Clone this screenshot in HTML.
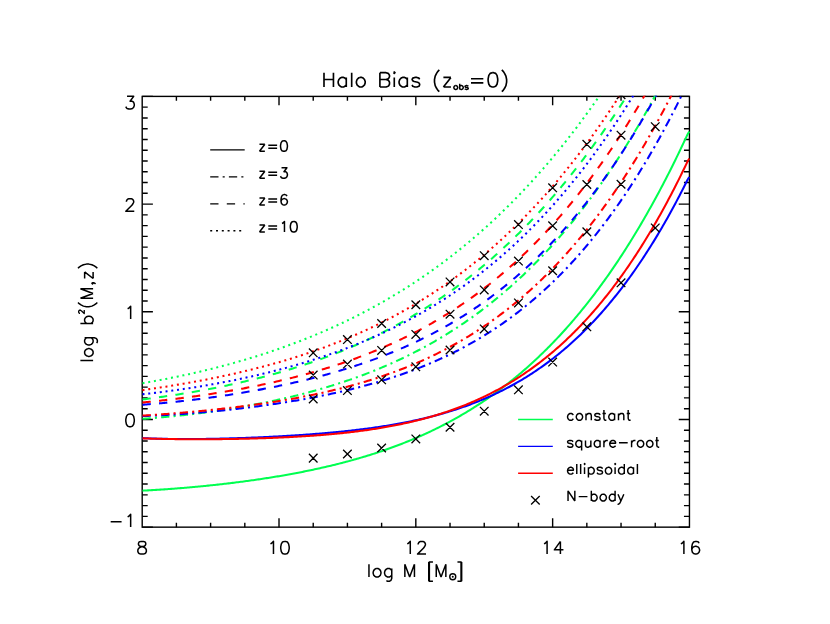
<!DOCTYPE html>
<html><head><meta charset="utf-8"><title>Halo Bias</title>
<style>html,body{margin:0;padding:0;background:#fff;font-family:"Liberation Sans",sans-serif}svg{display:block}</style>
</head><body>
<svg width="830" height="624" viewBox="0 0 830 624" style="display:block">
<rect width="830" height="624" fill="#fff"/>
<defs><clipPath id="cp"><rect x="141.5" y="95.7" width="548.65" height="432.15"/></clipPath></defs>
<rect x="142.2" y="96.4" width="547.25" height="430.75" fill="none" stroke="#000" stroke-width="1.4"/>
<path d="M176.4 527.15V522.85M176.4 96.4V100.7M210.61 527.15V522.85M210.61 96.4V100.7M244.81 527.15V522.85M244.81 96.4V100.7M279.01 527.15V518.25M279.01 96.4V105.3M313.22 527.15V522.85M313.22 96.4V100.7M347.42 527.15V522.85M347.42 96.4V100.7M381.62 527.15V522.85M381.62 96.4V100.7M415.82 527.15V518.25M415.82 96.4V105.3M450.03 527.15V522.85M450.03 96.4V100.7M484.23 527.15V522.85M484.23 96.4V100.7M518.43 527.15V522.85M518.43 96.4V100.7M552.64 527.15V518.25M552.64 96.4V105.3M586.84 527.15V522.85M586.84 96.4V100.7M621.04 527.15V522.85M621.04 96.4V100.7M655.25 527.15V522.85M655.25 96.4V100.7M142.2 527.15H152.9M689.45 527.15H678.75M142.2 516.38H147.7M689.45 516.38H683.95M142.2 505.61H147.7M689.45 505.61H683.95M142.2 494.84H147.7M689.45 494.84H683.95M142.2 484.07H147.7M689.45 484.07H683.95M142.2 473.31H147.7M689.45 473.31H683.95M142.2 462.54H147.7M689.45 462.54H683.95M142.2 451.77H147.7M689.45 451.77H683.95M142.2 441H147.7M689.45 441H683.95M142.2 430.23H147.7M689.45 430.23H683.95M142.2 419.46H152.9M689.45 419.46H678.75M142.2 408.69H147.7M689.45 408.69H683.95M142.2 397.92H147.7M689.45 397.92H683.95M142.2 387.16H147.7M689.45 387.16H683.95M142.2 376.39H147.7M689.45 376.39H683.95M142.2 365.62H147.7M689.45 365.62H683.95M142.2 354.85H147.7M689.45 354.85H683.95M142.2 344.08H147.7M689.45 344.08H683.95M142.2 333.31H147.7M689.45 333.31H683.95M142.2 322.54H147.7M689.45 322.54H683.95M142.2 311.77H152.9M689.45 311.77H678.75M142.2 301.01H147.7M689.45 301.01H683.95M142.2 290.24H147.7M689.45 290.24H683.95M142.2 279.47H147.7M689.45 279.47H683.95M142.2 268.7H147.7M689.45 268.7H683.95M142.2 257.93H147.7M689.45 257.93H683.95M142.2 247.16H147.7M689.45 247.16H683.95M142.2 236.39H147.7M689.45 236.39H683.95M142.2 225.62H147.7M689.45 225.62H683.95M142.2 214.86H147.7M689.45 214.86H683.95M142.2 204.09H152.9M689.45 204.09H678.75M142.2 193.32H147.7M689.45 193.32H683.95M142.2 182.55H147.7M689.45 182.55H683.95M142.2 171.78H147.7M689.45 171.78H683.95M142.2 161.01H147.7M689.45 161.01H683.95M142.2 150.24H147.7M689.45 150.24H683.95M142.2 139.47H147.7M689.45 139.47H683.95M142.2 128.71H147.7M689.45 128.71H683.95M142.2 117.94H147.7M689.45 117.94H683.95M142.2 107.17H147.7M689.45 107.17H683.95M142.2 96.4H152.9M689.45 96.4H678.75" stroke="#000" stroke-width="1.4" fill="none"/>
<g clip-path="url(#cp)" fill="none" stroke-linecap="butt" stroke-linejoin="round">
<path d="M142.5 490.67 L143.87 490.6 L145.23 490.52 L146.6 490.45 L147.96 490.38 L149.33 490.3 L150.7 490.22 L152.06 490.14 L153.43 490.06 L154.79 489.98 L156.16 489.89 L157.53 489.81 L158.89 489.72 L160.26 489.63 L161.62 489.54 L162.99 489.45 L164.36 489.36 L165.72 489.27 L167.09 489.17 L168.45 489.07 L169.82 488.97 L171.19 488.87 L172.55 488.77 L173.92 488.67 L175.28 488.57 L176.65 488.46 L178.02 488.35 L179.38 488.24 L180.75 488.13 L182.11 488.02 L183.48 487.91 L184.85 487.79 L186.21 487.68 L187.58 487.56 L188.94 487.44 L190.31 487.32 L191.68 487.2 L193.04 487.08 L194.41 486.95 L195.77 486.83 L197.14 486.7 L198.51 486.57 L199.87 486.44 L201.24 486.31 L202.6 486.17 L203.97 486.04 L205.34 485.9 L206.7 485.77 L208.07 485.63 L209.43 485.49 L210.8 485.34 L212.17 485.2 L213.53 485.06 L214.9 484.91 L216.26 484.76 L217.63 484.61 L219 484.46 L220.36 484.31 L221.73 484.15 L223.09 484 L224.46 483.84 L225.83 483.68 L227.19 483.52 L228.56 483.36 L229.92 483.19 L231.29 483.03 L232.66 482.86 L234.02 482.69 L235.39 482.52 L236.75 482.35 L238.12 482.18 L239.49 482 L240.85 481.83 L242.22 481.65 L243.58 481.47 L244.95 481.29 L246.32 481.1 L247.68 480.92 L249.05 480.73 L250.41 480.54 L251.78 480.35 L253.15 480.16 L254.51 479.96 L255.88 479.77 L257.24 479.57 L258.61 479.37 L259.98 479.17 L261.34 478.97 L262.71 478.76 L264.07 478.55 L265.44 478.34 L266.81 478.13 L268.17 477.92 L269.54 477.7 L270.9 477.49 L272.27 477.27 L273.64 477.05 L275 476.82 L276.37 476.6 L277.73 476.37 L279.1 476.14 L280.47 475.91 L281.83 475.68 L283.2 475.44 L284.56 475.2 L285.93 474.96 L287.3 474.72 L288.66 474.48 L290.03 474.23 L291.39 473.98 L292.76 473.73 L294.13 473.47 L295.49 473.22 L296.86 472.96 L298.22 472.7 L299.59 472.43 L300.96 472.17 L302.32 471.9 L303.69 471.63 L305.05 471.36 L306.42 471.08 L307.79 470.8 L309.15 470.52 L310.52 470.24 L311.88 469.95 L313.25 469.66 L314.62 469.37 L315.98 469.08 L317.35 468.78 L318.71 468.48 L320.08 468.18 L321.45 467.87 L322.81 467.56 L324.18 467.25 L325.54 466.94 L326.91 466.62 L328.28 466.3 L329.64 465.98 L331.01 465.65 L332.37 465.32 L333.74 464.99 L335.11 464.65 L336.47 464.31 L337.84 463.97 L339.2 463.63 L340.57 463.28 L341.94 462.93 L343.3 462.57 L344.67 462.21 L346.03 461.85 L347.4 461.49 L348.77 461.12 L350.13 460.75 L351.5 460.37 L352.86 459.99 L354.23 459.61 L355.6 459.22 L356.96 458.83 L358.33 458.44 L359.69 458.04 L361.06 457.64 L362.43 457.24 L363.79 456.83 L365.16 456.42 L366.52 456 L367.89 455.58 L369.26 455.16 L370.62 454.73 L371.99 454.3 L373.35 453.86 L374.72 453.42 L376.09 452.98 L377.45 452.53 L378.82 452.07 L380.18 451.62 L381.55 451.16 L382.92 450.69 L384.28 450.22 L385.65 449.75 L387.01 449.27 L388.38 448.78 L389.75 448.29 L391.11 447.8 L392.48 447.3 L393.84 446.8 L395.21 446.29 L396.58 445.78 L397.94 445.27 L399.31 444.75 L400.67 444.22 L402.04 443.69 L403.41 443.15 L404.77 442.61 L406.14 442.06 L407.5 441.51 L408.87 440.96 L410.24 440.4 L411.6 439.83 L412.97 439.26 L414.33 438.68 L415.7 438.1 L417.07 437.51 L418.43 436.91 L419.8 436.31 L421.16 435.71 L422.53 435.1 L423.9 434.48 L425.26 433.86 L426.63 433.23 L427.99 432.6 L429.36 431.96 L430.73 431.31 L432.09 430.66 L433.46 430 L434.82 429.34 L436.19 428.67 L437.56 428 L438.92 427.31 L440.29 426.63 L441.65 425.93 L443.02 425.23 L444.39 424.52 L445.75 423.81 L447.12 423.09 L448.48 422.36 L449.85 421.63 L451.22 420.89 L452.58 420.14 L453.95 419.39 L455.31 418.63 L456.68 417.86 L458.05 417.08 L459.41 416.3 L460.78 415.51 L462.14 414.72 L463.51 413.91 L464.88 413.1 L466.24 412.29 L467.61 411.46 L468.97 410.63 L470.34 409.79 L471.71 408.94 L473.07 408.09 L474.44 407.22 L475.8 406.35 L477.17 405.48 L478.54 404.59 L479.9 403.7 L481.27 402.79 L482.63 401.88 L484 400.97 L485.37 400.04 L486.73 399.11 L488.1 398.16 L489.46 397.21 L490.83 396.25 L492.2 395.29 L493.56 394.31 L494.93 393.33 L496.29 392.33 L497.66 391.33 L499.03 390.32 L500.39 389.3 L501.76 388.27 L503.12 387.24 L504.49 386.19 L505.86 385.13 L507.22 384.07 L508.59 383 L509.95 381.91 L511.32 380.82 L512.69 379.72 L514.05 378.61 L515.42 377.49 L516.78 376.36 L518.15 375.22 L519.52 374.07 L520.88 372.91 L522.25 371.74 L523.61 370.56 L524.98 369.37 L526.35 368.17 L527.71 366.96 L529.08 365.75 L530.44 364.52 L531.81 363.28 L533.18 362.03 L534.54 360.76 L535.91 359.49 L537.27 358.21 L538.64 356.92 L540.01 355.61 L541.37 354.3 L542.74 352.97 L544.1 351.64 L545.47 350.29 L546.84 348.93 L548.2 347.56 L549.57 346.18 L550.93 344.79 L552.3 343.39 L553.67 341.97 L555.03 340.54 L556.4 339.1 L557.76 337.65 L559.13 336.19 L560.5 334.72 L561.86 333.23 L563.23 331.74 L564.59 330.23 L565.96 328.7 L567.33 327.17 L568.69 325.62 L570.06 324.06 L571.42 322.49 L572.79 320.91 L574.16 319.31 L575.52 317.7 L576.89 316.08 L578.25 314.44 L579.62 312.8 L580.99 311.13 L582.35 309.46 L583.72 307.77 L585.08 306.07 L586.45 304.36 L587.82 302.63 L589.18 300.89 L590.55 299.13 L591.91 297.37 L593.28 295.58 L594.65 293.79 L596.01 291.98 L597.38 290.15 L598.74 288.32 L600.11 286.46 L601.48 284.6 L602.84 282.72 L604.21 280.82 L605.57 278.91 L606.94 276.99 L608.31 275.05 L609.67 273.09 L611.04 271.13 L612.4 269.14 L613.77 267.14 L615.14 265.13 L616.5 263.1 L617.87 261.06 L619.23 259 L620.6 256.92 L621.97 254.83 L623.33 252.73 L624.7 250.6 L626.06 248.47 L627.43 246.31 L628.8 244.14 L630.16 241.96 L631.53 239.75 L632.89 237.54 L634.26 235.3 L635.63 233.05 L636.99 230.78 L638.36 228.5 L639.72 226.2 L641.09 223.88 L642.46 221.55 L643.82 219.19 L645.19 216.82 L646.55 214.44 L647.92 212.04 L649.29 209.61 L650.65 207.18 L652.02 204.72 L653.38 202.25 L654.75 199.76 L656.12 197.25 L657.48 194.72 L658.85 192.18 L660.21 189.61 L661.58 187.03 L662.95 184.43 L664.31 181.82 L665.68 179.18 L667.04 176.52 L668.41 173.85 L669.78 171.16 L671.14 168.45 L672.51 165.72 L673.87 162.97 L675.24 160.2 L676.61 157.41 L677.97 154.6 L679.34 151.78 L680.7 148.93 L682.07 146.06 L683.44 143.18 L684.8 140.27 L686.17 137.35 L687.53 134.4 L689.25 131.43 L689.25 131.43" stroke="#00ff50" stroke-width="2.05"/>
<path d="M142.5 438.12 L143.87 438.18 L145.23 438.24 L146.6 438.3 L147.96 438.35 L149.33 438.4 L150.7 438.45 L152.06 438.5 L153.43 438.54 L154.79 438.58 L156.16 438.63 L157.53 438.66 L158.89 438.7 L160.26 438.73 L161.62 438.77 L162.99 438.8 L164.36 438.83 L165.72 438.85 L167.09 438.88 L168.45 438.9 L169.82 438.92 L171.19 438.94 L172.55 438.96 L173.92 438.97 L175.28 438.99 L176.65 439 L178.02 439.01 L179.38 439.02 L180.75 439.03 L182.11 439.03 L183.48 439.04 L184.85 439.04 L186.21 439.04 L187.58 439.04 L188.94 439.04 L190.31 439.04 L191.68 439.03 L193.04 439.03 L194.41 439.02 L195.77 439.01 L197.14 439 L198.51 438.99 L199.87 438.97 L201.24 438.96 L202.6 438.94 L203.97 438.93 L205.34 438.91 L206.7 438.89 L208.07 438.87 L209.43 438.85 L210.8 438.83 L212.17 438.8 L213.53 438.78 L214.9 438.75 L216.26 438.72 L217.63 438.69 L219 438.66 L220.36 438.63 L221.73 438.6 L223.09 438.57 L224.46 438.53 L225.83 438.5 L227.19 438.46 L228.56 438.42 L229.92 438.39 L231.29 438.35 L232.66 438.31 L234.02 438.26 L235.39 438.22 L236.75 438.18 L238.12 438.13 L239.49 438.09 L240.85 438.04 L242.22 437.99 L243.58 437.95 L244.95 437.9 L246.32 437.85 L247.68 437.79 L249.05 437.74 L250.41 437.69 L251.78 437.63 L253.15 437.58 L254.51 437.52 L255.88 437.47 L257.24 437.41 L258.61 437.35 L259.98 437.29 L261.34 437.23 L262.71 437.16 L264.07 437.1 L265.44 437.04 L266.81 436.97 L268.17 436.91 L269.54 436.84 L270.9 436.77 L272.27 436.7 L273.64 436.63 L275 436.56 L276.37 436.49 L277.73 436.41 L279.1 436.34 L280.47 436.26 L281.83 436.19 L283.2 436.11 L284.56 436.03 L285.93 435.95 L287.3 435.87 L288.66 435.79 L290.03 435.71 L291.39 435.62 L292.76 435.54 L294.13 435.45 L295.49 435.36 L296.86 435.27 L298.22 435.18 L299.59 435.09 L300.96 435 L302.32 434.91 L303.69 434.81 L305.05 434.71 L306.42 434.62 L307.79 434.52 L309.15 434.42 L310.52 434.32 L311.88 434.21 L313.25 434.11 L314.62 434 L315.98 433.89 L317.35 433.79 L318.71 433.68 L320.08 433.56 L321.45 433.45 L322.81 433.34 L324.18 433.22 L325.54 433.1 L326.91 432.98 L328.28 432.86 L329.64 432.74 L331.01 432.61 L332.37 432.49 L333.74 432.36 L335.11 432.23 L336.47 432.1 L337.84 431.97 L339.2 431.83 L340.57 431.69 L341.94 431.55 L343.3 431.41 L344.67 431.27 L346.03 431.13 L347.4 430.98 L348.77 430.83 L350.13 430.68 L351.5 430.53 L352.86 430.37 L354.23 430.21 L355.6 430.06 L356.96 429.89 L358.33 429.73 L359.69 429.56 L361.06 429.39 L362.43 429.22 L363.79 429.05 L365.16 428.87 L366.52 428.7 L367.89 428.51 L369.26 428.33 L370.62 428.15 L371.99 427.96 L373.35 427.76 L374.72 427.57 L376.09 427.37 L377.45 427.17 L378.82 426.97 L380.18 426.77 L381.55 426.56 L382.92 426.35 L384.28 426.13 L385.65 425.92 L387.01 425.7 L388.38 425.47 L389.75 425.25 L391.11 425.02 L392.48 424.78 L393.84 424.55 L395.21 424.31 L396.58 424.06 L397.94 423.82 L399.31 423.57 L400.67 423.31 L402.04 423.05 L403.41 422.79 L404.77 422.53 L406.14 422.26 L407.5 421.99 L408.87 421.71 L410.24 421.43 L411.6 421.15 L412.97 420.86 L414.33 420.57 L415.7 420.27 L417.07 419.97 L418.43 419.67 L419.8 419.36 L421.16 419.05 L422.53 418.73 L423.9 418.41 L425.26 418.08 L426.63 417.75 L427.99 417.42 L429.36 417.08 L430.73 416.73 L432.09 416.38 L433.46 416.03 L434.82 415.67 L436.19 415.31 L437.56 414.94 L438.92 414.56 L440.29 414.18 L441.65 413.8 L443.02 413.41 L444.39 413.02 L445.75 412.61 L447.12 412.21 L448.48 411.8 L449.85 411.38 L451.22 410.96 L452.58 410.53 L453.95 410.1 L455.31 409.66 L456.68 409.21 L458.05 408.76 L459.41 408.3 L460.78 407.84 L462.14 407.37 L463.51 406.89 L464.88 406.41 L466.24 405.92 L467.61 405.43 L468.97 404.93 L470.34 404.42 L471.71 403.9 L473.07 403.38 L474.44 402.86 L475.8 402.32 L477.17 401.78 L478.54 401.23 L479.9 400.67 L481.27 400.11 L482.63 399.54 L484 398.96 L485.37 398.38 L486.73 397.79 L488.1 397.19 L489.46 396.58 L490.83 395.96 L492.2 395.34 L493.56 394.71 L494.93 394.07 L496.29 393.42 L497.66 392.77 L499.03 392.11 L500.39 391.43 L501.76 390.76 L503.12 390.07 L504.49 389.37 L505.86 388.67 L507.22 387.95 L508.59 387.23 L509.95 386.5 L511.32 385.76 L512.69 385.01 L514.05 384.25 L515.42 383.49 L516.78 382.71 L518.15 381.92 L519.52 381.13 L520.88 380.32 L522.25 379.51 L523.61 378.69 L524.98 377.85 L526.35 377.01 L527.71 376.16 L529.08 375.29 L530.44 374.42 L531.81 373.54 L533.18 372.64 L534.54 371.74 L535.91 370.82 L537.27 369.9 L538.64 368.96 L540.01 368.02 L541.37 367.06 L542.74 366.09 L544.1 365.11 L545.47 364.12 L546.84 363.12 L548.2 362.11 L549.57 361.08 L550.93 360.05 L552.3 359 L553.67 357.94 L555.03 356.87 L556.4 355.79 L557.76 354.69 L559.13 353.58 L560.5 352.46 L561.86 351.33 L563.23 350.19 L564.59 349.03 L565.96 347.86 L567.33 346.68 L568.69 345.49 L570.06 344.28 L571.42 343.06 L572.79 341.83 L574.16 340.58 L575.52 339.32 L576.89 338.05 L578.25 336.76 L579.62 335.46 L580.99 334.14 L582.35 332.81 L583.72 331.47 L585.08 330.12 L586.45 328.75 L587.82 327.36 L589.18 325.96 L590.55 324.55 L591.91 323.12 L593.28 321.68 L594.65 320.22 L596.01 318.75 L597.38 317.26 L598.74 315.75 L600.11 314.24 L601.48 312.7 L602.84 311.15 L604.21 309.59 L605.57 308.01 L606.94 306.41 L608.31 304.8 L609.67 303.17 L611.04 301.53 L612.4 299.86 L613.77 298.19 L615.14 296.49 L616.5 294.78 L617.87 293.05 L619.23 291.31 L620.6 289.55 L621.97 287.77 L623.33 285.97 L624.7 284.16 L626.06 282.33 L627.43 280.48 L628.8 278.61 L630.16 276.73 L631.53 274.83 L632.89 272.91 L634.26 270.97 L635.63 269.01 L636.99 267.04 L638.36 265.04 L639.72 263.03 L641.09 261 L642.46 258.95 L643.82 256.88 L645.19 254.79 L646.55 252.68 L647.92 250.55 L649.29 248.41 L650.65 246.24 L652.02 244.05 L653.38 241.84 L654.75 239.62 L656.12 237.37 L657.48 235.1 L658.85 232.81 L660.21 230.5 L661.58 228.17 L662.95 225.82 L664.31 223.45 L665.68 221.06 L667.04 218.64 L668.41 216.21 L669.78 213.75 L671.14 211.27 L672.51 208.77 L673.87 206.24 L675.24 203.7 L676.61 201.13 L677.97 198.54 L679.34 195.92 L680.7 193.29 L682.07 190.63 L683.44 187.95 L684.8 185.24 L686.17 182.51 L687.53 179.76 L689.25 176.99 L689.25 176.99" stroke="#0000ff" stroke-width="2.05"/>
<path d="M142.5 438.34 L143.87 438.39 L145.23 438.43 L146.6 438.48 L147.96 438.52 L149.33 438.56 L150.7 438.61 L152.06 438.65 L153.43 438.68 L154.79 438.72 L156.16 438.75 L157.53 438.79 L158.89 438.82 L160.26 438.85 L161.62 438.88 L162.99 438.91 L164.36 438.94 L165.72 438.96 L167.09 438.99 L168.45 439.01 L169.82 439.04 L171.19 439.06 L172.55 439.08 L173.92 439.1 L175.28 439.12 L176.65 439.13 L178.02 439.15 L179.38 439.16 L180.75 439.18 L182.11 439.19 L183.48 439.2 L184.85 439.21 L186.21 439.22 L187.58 439.23 L188.94 439.24 L190.31 439.24 L191.68 439.25 L193.04 439.25 L194.41 439.25 L195.77 439.26 L197.14 439.26 L198.51 439.26 L199.87 439.26 L201.24 439.26 L202.6 439.25 L203.97 439.25 L205.34 439.25 L206.7 439.24 L208.07 439.23 L209.43 439.23 L210.8 439.22 L212.17 439.21 L213.53 439.2 L214.9 439.19 L216.26 439.18 L217.63 439.16 L219 439.15 L220.36 439.14 L221.73 439.12 L223.09 439.1 L224.46 439.09 L225.83 439.07 L227.19 439.05 L228.56 439.03 L229.92 439.01 L231.29 438.99 L232.66 438.96 L234.02 438.94 L235.39 438.91 L236.75 438.89 L238.12 438.86 L239.49 438.83 L240.85 438.8 L242.22 438.77 L243.58 438.74 L244.95 438.71 L246.32 438.68 L247.68 438.65 L249.05 438.61 L250.41 438.58 L251.78 438.54 L253.15 438.5 L254.51 438.46 L255.88 438.42 L257.24 438.38 L258.61 438.34 L259.98 438.3 L261.34 438.25 L262.71 438.21 L264.07 438.16 L265.44 438.11 L266.81 438.07 L268.17 438.02 L269.54 437.96 L270.9 437.91 L272.27 437.86 L273.64 437.8 L275 437.75 L276.37 437.69 L277.73 437.63 L279.1 437.57 L280.47 437.51 L281.83 437.45 L283.2 437.39 L284.56 437.32 L285.93 437.26 L287.3 437.19 L288.66 437.12 L290.03 437.05 L291.39 436.98 L292.76 436.91 L294.13 436.83 L295.49 436.76 L296.86 436.68 L298.22 436.6 L299.59 436.52 L300.96 436.44 L302.32 436.35 L303.69 436.27 L305.05 436.18 L306.42 436.09 L307.79 436 L309.15 435.91 L310.52 435.81 L311.88 435.72 L313.25 435.62 L314.62 435.52 L315.98 435.42 L317.35 435.32 L318.71 435.21 L320.08 435.11 L321.45 435 L322.81 434.89 L324.18 434.77 L325.54 434.66 L326.91 434.54 L328.28 434.42 L329.64 434.3 L331.01 434.18 L332.37 434.05 L333.74 433.93 L335.11 433.8 L336.47 433.66 L337.84 433.53 L339.2 433.39 L340.57 433.25 L341.94 433.11 L343.3 432.97 L344.67 432.82 L346.03 432.67 L347.4 432.52 L348.77 432.36 L350.13 432.21 L351.5 432.05 L352.86 431.89 L354.23 431.72 L355.6 431.55 L356.96 431.38 L358.33 431.21 L359.69 431.03 L361.06 430.85 L362.43 430.67 L363.79 430.49 L365.16 430.3 L366.52 430.11 L367.89 429.91 L369.26 429.71 L370.62 429.51 L371.99 429.31 L373.35 429.1 L374.72 428.89 L376.09 428.68 L377.45 428.46 L378.82 428.24 L380.18 428.01 L381.55 427.78 L382.92 427.55 L384.28 427.32 L385.65 427.08 L387.01 426.84 L388.38 426.59 L389.75 426.34 L391.11 426.08 L392.48 425.83 L393.84 425.56 L395.21 425.3 L396.58 425.03 L397.94 424.75 L399.31 424.47 L400.67 424.19 L402.04 423.9 L403.41 423.61 L404.77 423.32 L406.14 423.02 L407.5 422.71 L408.87 422.4 L410.24 422.09 L411.6 421.77 L412.97 421.45 L414.33 421.12 L415.7 420.79 L417.07 420.45 L418.43 420.11 L419.8 419.76 L421.16 419.41 L422.53 419.05 L423.9 418.69 L425.26 418.32 L426.63 417.95 L427.99 417.57 L429.36 417.18 L430.73 416.8 L432.09 416.4 L433.46 416 L434.82 415.6 L436.19 415.18 L437.56 414.77 L438.92 414.34 L440.29 413.92 L441.65 413.48 L443.02 413.04 L444.39 412.59 L445.75 412.14 L447.12 411.68 L448.48 411.22 L449.85 410.75 L451.22 410.27 L452.58 409.79 L453.95 409.3 L455.31 408.8 L456.68 408.29 L458.05 407.78 L459.41 407.27 L460.78 406.74 L462.14 406.21 L463.51 405.68 L464.88 405.13 L466.24 404.58 L467.61 404.02 L468.97 403.46 L470.34 402.88 L471.71 402.3 L473.07 401.71 L474.44 401.12 L475.8 400.52 L477.17 399.91 L478.54 399.29 L479.9 398.66 L481.27 398.03 L482.63 397.39 L484 396.74 L485.37 396.08 L486.73 395.41 L488.1 394.74 L489.46 394.06 L490.83 393.37 L492.2 392.67 L493.56 391.96 L494.93 391.24 L496.29 390.52 L497.66 389.78 L499.03 389.04 L500.39 388.29 L501.76 387.53 L503.12 386.76 L504.49 385.98 L505.86 385.19 L507.22 384.4 L508.59 383.59 L509.95 382.78 L511.32 381.95 L512.69 381.12 L514.05 380.27 L515.42 379.42 L516.78 378.55 L518.15 377.68 L519.52 376.79 L520.88 375.9 L522.25 375 L523.61 374.08 L524.98 373.16 L526.35 372.22 L527.71 371.27 L529.08 370.32 L530.44 369.35 L531.81 368.37 L533.18 367.38 L534.54 366.38 L535.91 365.37 L537.27 364.35 L538.64 363.32 L540.01 362.27 L541.37 361.22 L542.74 360.15 L544.1 359.07 L545.47 357.98 L546.84 356.88 L548.2 355.76 L549.57 354.64 L550.93 353.5 L552.3 352.35 L553.67 351.18 L555.03 350.01 L556.4 348.82 L557.76 347.62 L559.13 346.41 L560.5 345.18 L561.86 343.95 L563.23 342.7 L564.59 341.43 L565.96 340.16 L567.33 338.87 L568.69 337.56 L570.06 336.25 L571.42 334.92 L572.79 333.57 L574.16 332.22 L575.52 330.84 L576.89 329.46 L578.25 328.06 L579.62 326.65 L580.99 325.22 L582.35 323.78 L583.72 322.32 L585.08 320.85 L586.45 319.37 L587.82 317.87 L589.18 316.36 L590.55 314.83 L591.91 313.28 L593.28 311.73 L594.65 310.15 L596.01 308.56 L597.38 306.96 L598.74 305.34 L600.11 303.7 L601.48 302.05 L602.84 300.38 L604.21 298.7 L605.57 297 L606.94 295.29 L608.31 293.55 L609.67 291.81 L611.04 290.04 L612.4 288.26 L613.77 286.46 L615.14 284.65 L616.5 282.82 L617.87 280.97 L619.23 279.11 L620.6 277.22 L621.97 275.32 L623.33 273.41 L624.7 271.47 L626.06 269.52 L627.43 267.55 L628.8 265.56 L630.16 263.55 L631.53 261.53 L632.89 259.49 L634.26 257.43 L635.63 255.35 L636.99 253.25 L638.36 251.13 L639.72 249 L641.09 246.84 L642.46 244.67 L643.82 242.48 L645.19 240.27 L646.55 238.04 L647.92 235.79 L649.29 233.52 L650.65 231.23 L652.02 228.92 L653.38 226.59 L654.75 224.24 L656.12 221.87 L657.48 219.48 L658.85 217.06 L660.21 214.63 L661.58 212.18 L662.95 209.71 L664.31 207.21 L665.68 204.7 L667.04 202.16 L668.41 199.6 L669.78 197.02 L671.14 194.42 L672.51 191.8 L673.87 189.16 L675.24 186.49 L676.61 183.8 L677.97 181.09 L679.34 178.36 L680.7 175.6 L682.07 172.82 L683.44 170.02 L684.8 167.2 L686.17 164.35 L687.53 161.48 L689.25 158.59 L689.25 158.59" stroke="#ff0000" stroke-width="2.05"/>
<path d="M142.5 418.82 L143.87 418.72 L145.23 418.62 L146.6 418.52 L147.96 418.42 L149.33 418.31 L150.7 418.21 L152.06 418.1 L153.43 417.99 L154.79 417.88 L156.16 417.77 L157.53 417.65 L158.89 417.53 L160.26 417.41 L161.62 417.29 L162.99 417.17 L164.36 417.05 L165.72 416.92 L167.09 416.79 L168.45 416.66 L169.82 416.53 L171.19 416.4 L172.55 416.26 L173.92 416.12 L175.28 415.99 L176.65 415.84 L178.02 415.7 L179.38 415.56 L180.75 415.41 L182.11 415.26 L183.48 415.11 L184.85 414.96 L186.21 414.81 L187.58 414.65 L188.94 414.5 L190.31 414.34 L191.68 414.17 L193.04 414.01 L194.41 413.85 L195.77 413.68 L197.14 413.51 L198.51 413.34 L199.87 413.17 L201.24 412.99 L202.6 412.82 L203.97 412.64 L205.34 412.46 L206.7 412.28 L208.07 412.09 L209.43 411.91 L210.8 411.72 L212.17 411.53 L213.53 411.34 L214.9 411.14 L216.26 410.95 L217.63 410.75 L219 410.55 L220.36 410.35 L221.73 410.14 L223.09 409.94 L224.46 409.73 L225.83 409.52 L227.19 409.3 L228.56 409.09 L229.92 408.87 L231.29 408.65 L232.66 408.43 L234.02 408.21 L235.39 407.98 L236.75 407.76 L238.12 407.53 L239.49 407.3 L240.85 407.06 L242.22 406.83 L243.58 406.59 L244.95 406.35 L246.32 406.1 L247.68 405.86 L249.05 405.61 L250.41 405.36 L251.78 405.11 L253.15 404.85 L254.51 404.6 L255.88 404.34 L257.24 404.08 L258.61 403.81 L259.98 403.55 L261.34 403.28 L262.71 403.01 L264.07 402.73 L265.44 402.46 L266.81 402.18 L268.17 401.9 L269.54 401.61 L270.9 401.33 L272.27 401.04 L273.64 400.75 L275 400.45 L276.37 400.15 L277.73 399.85 L279.1 399.55 L280.47 399.25 L281.83 398.94 L283.2 398.63 L284.56 398.32 L285.93 398 L287.3 397.68 L288.66 397.36 L290.03 397.04 L291.39 396.71 L292.76 396.38 L294.13 396.05 L295.49 395.71 L296.86 395.38 L298.22 395.03 L299.59 394.69 L300.96 394.34 L302.32 393.99 L303.69 393.64 L305.05 393.28 L306.42 392.92 L307.79 392.56 L309.15 392.19 L310.52 391.83 L311.88 391.45 L313.25 391.08 L314.62 390.7 L315.98 390.32 L317.35 389.93 L318.71 389.54 L320.08 389.15 L321.45 388.76 L322.81 388.36 L324.18 387.96 L325.54 387.55 L326.91 387.14 L328.28 386.73 L329.64 386.31 L331.01 385.89 L332.37 385.47 L333.74 385.05 L335.11 384.62 L336.47 384.18 L337.84 383.74 L339.2 383.3 L340.57 382.86 L341.94 382.41 L343.3 381.96 L344.67 381.5 L346.03 381.04 L347.4 380.58 L348.77 380.11 L350.13 379.64 L351.5 379.16 L352.86 378.68 L354.23 378.2 L355.6 377.71 L356.96 377.22 L358.33 376.72 L359.69 376.22 L361.06 375.72 L362.43 375.21 L363.79 374.69 L365.16 374.18 L366.52 373.65 L367.89 373.13 L369.26 372.6 L370.62 372.06 L371.99 371.52 L373.35 370.98 L374.72 370.43 L376.09 369.88 L377.45 369.32 L378.82 368.76 L380.18 368.19 L381.55 367.62 L382.92 367.04 L384.28 366.46 L385.65 365.88 L387.01 365.29 L388.38 364.69 L389.75 364.09 L391.11 363.49 L392.48 362.88 L393.84 362.26 L395.21 361.64 L396.58 361.01 L397.94 360.38 L399.31 359.75 L400.67 359.11 L402.04 358.46 L403.41 357.81 L404.77 357.15 L406.14 356.49 L407.5 355.82 L408.87 355.15 L410.24 354.47 L411.6 353.79 L412.97 353.1 L414.33 352.4 L415.7 351.7 L417.07 350.99 L418.43 350.28 L419.8 349.56 L421.16 348.84 L422.53 348.11 L423.9 347.37 L425.26 346.63 L426.63 345.88 L427.99 345.13 L429.36 344.37 L430.73 343.6 L432.09 342.83 L433.46 342.05 L434.82 341.27 L436.19 340.48 L437.56 339.68 L438.92 338.88 L440.29 338.07 L441.65 337.25 L443.02 336.43 L444.39 335.6 L445.75 334.76 L447.12 333.92 L448.48 333.07 L449.85 332.22 L451.22 331.35 L452.58 330.48 L453.95 329.61 L455.31 328.73 L456.68 327.83 L458.05 326.94 L459.41 326.03 L460.78 325.12 L462.14 324.2 L463.51 323.28 L464.88 322.34 L466.24 321.4 L467.61 320.46 L468.97 319.5 L470.34 318.54 L471.71 317.57 L473.07 316.59 L474.44 315.61 L475.8 314.61 L477.17 313.61 L478.54 312.6 L479.9 311.59 L481.27 310.56 L482.63 309.53 L484 308.49 L485.37 307.45 L486.73 306.39 L488.1 305.33 L489.46 304.25 L490.83 303.17 L492.2 302.08 L493.56 300.99 L494.93 299.88 L496.29 298.77 L497.66 297.65 L499.03 296.52 L500.39 295.38 L501.76 294.23 L503.12 293.07 L504.49 291.91 L505.86 290.73 L507.22 289.55 L508.59 288.36 L509.95 287.16 L511.32 285.95 L512.69 284.73 L514.05 283.5 L515.42 282.27 L516.78 281.02 L518.15 279.76 L519.52 278.5 L520.88 277.22 L522.25 275.94 L523.61 274.65 L524.98 273.34 L526.35 272.03 L527.71 270.71 L529.08 269.38 L530.44 268.04 L531.81 266.68 L533.18 265.32 L534.54 263.95 L535.91 262.57 L537.27 261.18 L538.64 259.78 L540.01 258.36 L541.37 256.94 L542.74 255.51 L544.1 254.06 L545.47 252.61 L546.84 251.15 L548.2 249.67 L549.57 248.19 L550.93 246.69 L552.3 245.18 L553.67 243.66 L555.03 242.14 L556.4 240.6 L557.76 239.05 L559.13 237.48 L560.5 235.91 L561.86 234.33 L563.23 232.73 L564.59 231.12 L565.96 229.51 L567.33 227.88 L568.69 226.23 L570.06 224.58 L571.42 222.92 L572.79 221.24 L574.16 219.55 L575.52 217.85 L576.89 216.14 L578.25 214.42 L579.62 212.68 L580.99 210.93 L582.35 209.17 L583.72 207.4 L585.08 205.62 L586.45 203.82 L587.82 202.01 L589.18 200.19 L590.55 198.35 L591.91 196.5 L593.28 194.64 L594.65 192.77 L596.01 190.88 L597.38 188.98 L598.74 187.07 L600.11 185.15 L601.48 183.21 L602.84 181.26 L604.21 179.29 L605.57 177.32 L606.94 175.32 L608.31 173.32 L609.67 171.3 L611.04 169.27 L612.4 167.22 L613.77 165.16 L615.14 163.09 L616.5 161 L617.87 158.9 L619.23 156.78 L620.6 154.65 L621.97 152.51 L623.33 150.35 L624.7 148.18 L626.06 145.99 L627.43 143.79 L628.8 141.57 L630.16 139.34 L631.53 137.1 L632.89 134.84 L634.26 132.56 L635.63 130.27 L636.99 127.97 L638.36 125.65 L639.72 123.31 L641.09 120.96 L642.46 118.59 L643.82 116.21 L645.19 113.81 L646.55 111.4 L647.92 108.97 L649.29 106.53 L650.65 104.07 L652.02 101.59 L653.38 99.1 L654.75 96.59 L656.12 94.07 L657.48 91.53 L658.85 88.97 L660.21 86.4 L660.21 86.4" stroke="#00ff50" stroke-width="2.05" stroke-dasharray="8.3 4.15 2.08 4.15"/>
<path d="M142.5 416.09 L143.87 416.04 L145.23 415.99 L146.6 415.94 L147.96 415.88 L149.33 415.83 L150.7 415.77 L152.06 415.71 L153.43 415.65 L154.79 415.58 L156.16 415.52 L157.53 415.45 L158.89 415.38 L160.26 415.31 L161.62 415.24 L162.99 415.16 L164.36 415.09 L165.72 415.01 L167.09 414.93 L168.45 414.85 L169.82 414.77 L171.19 414.69 L172.55 414.6 L173.92 414.51 L175.28 414.43 L176.65 414.34 L178.02 414.24 L179.38 414.15 L180.75 414.06 L182.11 413.96 L183.48 413.86 L184.85 413.76 L186.21 413.66 L187.58 413.56 L188.94 413.46 L190.31 413.35 L191.68 413.24 L193.04 413.14 L194.41 413.03 L195.77 412.91 L197.14 412.8 L198.51 412.69 L199.87 412.57 L201.24 412.45 L202.6 412.34 L203.97 412.22 L205.34 412.09 L206.7 411.97 L208.07 411.85 L209.43 411.72 L210.8 411.59 L212.17 411.46 L213.53 411.33 L214.9 411.2 L216.26 411.07 L217.63 410.93 L219 410.8 L220.36 410.66 L221.73 410.52 L223.09 410.38 L224.46 410.24 L225.83 410.09 L227.19 409.95 L228.56 409.8 L229.92 409.65 L231.29 409.5 L232.66 409.35 L234.02 409.2 L235.39 409.04 L236.75 408.89 L238.12 408.73 L239.49 408.57 L240.85 408.41 L242.22 408.25 L243.58 408.09 L244.95 407.92 L246.32 407.76 L247.68 407.59 L249.05 407.42 L250.41 407.25 L251.78 407.07 L253.15 406.9 L254.51 406.72 L255.88 406.55 L257.24 406.37 L258.61 406.19 L259.98 406 L261.34 405.82 L262.71 405.63 L264.07 405.44 L265.44 405.25 L266.81 405.06 L268.17 404.87 L269.54 404.68 L270.9 404.48 L272.27 404.28 L273.64 404.08 L275 403.88 L276.37 403.68 L277.73 403.47 L279.1 403.26 L280.47 403.05 L281.83 402.84 L283.2 402.63 L284.56 402.42 L285.93 402.2 L287.3 401.98 L288.66 401.76 L290.03 401.54 L291.39 401.31 L292.76 401.09 L294.13 400.86 L295.49 400.63 L296.86 400.39 L298.22 400.16 L299.59 399.92 L300.96 399.68 L302.32 399.44 L303.69 399.2 L305.05 398.95 L306.42 398.71 L307.79 398.46 L309.15 398.2 L310.52 397.95 L311.88 397.69 L313.25 397.43 L314.62 397.17 L315.98 396.91 L317.35 396.64 L318.71 396.37 L320.08 396.1 L321.45 395.83 L322.81 395.55 L324.18 395.27 L325.54 394.99 L326.91 394.71 L328.28 394.42 L329.64 394.13 L331.01 393.84 L332.37 393.55 L333.74 393.25 L335.11 392.95 L336.47 392.65 L337.84 392.34 L339.2 392.03 L340.57 391.72 L341.94 391.41 L343.3 391.09 L344.67 390.77 L346.03 390.45 L347.4 390.12 L348.77 389.8 L350.13 389.46 L351.5 389.13 L352.86 388.79 L354.23 388.45 L355.6 388.11 L356.96 387.76 L358.33 387.41 L359.69 387.05 L361.06 386.69 L362.43 386.33 L363.79 385.97 L365.16 385.6 L366.52 385.23 L367.89 384.86 L369.26 384.48 L370.62 384.1 L371.99 383.71 L373.35 383.32 L374.72 382.93 L376.09 382.53 L377.45 382.13 L378.82 381.73 L380.18 381.32 L381.55 380.91 L382.92 380.49 L384.28 380.07 L385.65 379.65 L387.01 379.22 L388.38 378.79 L389.75 378.35 L391.11 377.91 L392.48 377.47 L393.84 377.02 L395.21 376.57 L396.58 376.11 L397.94 375.65 L399.31 375.18 L400.67 374.71 L402.04 374.24 L403.41 373.76 L404.77 373.27 L406.14 372.78 L407.5 372.29 L408.87 371.79 L410.24 371.29 L411.6 370.78 L412.97 370.27 L414.33 369.75 L415.7 369.23 L417.07 368.7 L418.43 368.17 L419.8 367.63 L421.16 367.09 L422.53 366.54 L423.9 365.99 L425.26 365.43 L426.63 364.87 L427.99 364.3 L429.36 363.72 L430.73 363.14 L432.09 362.56 L433.46 361.97 L434.82 361.37 L436.19 360.77 L437.56 360.16 L438.92 359.54 L440.29 358.92 L441.65 358.3 L443.02 357.67 L444.39 357.03 L445.75 356.38 L447.12 355.74 L448.48 355.08 L449.85 354.42 L451.22 353.75 L452.58 353.07 L453.95 352.39 L455.31 351.7 L456.68 351.01 L458.05 350.31 L459.41 349.6 L460.78 348.89 L462.14 348.17 L463.51 347.44 L464.88 346.7 L466.24 345.96 L467.61 345.21 L468.97 344.46 L470.34 343.7 L471.71 342.93 L473.07 342.15 L474.44 341.37 L475.8 340.58 L477.17 339.78 L478.54 338.97 L479.9 338.16 L481.27 337.34 L482.63 336.51 L484 335.67 L485.37 334.83 L486.73 333.97 L488.1 333.11 L489.46 332.25 L490.83 331.37 L492.2 330.49 L493.56 329.59 L494.93 328.69 L496.29 327.79 L497.66 326.87 L499.03 325.94 L500.39 325.01 L501.76 324.07 L503.12 323.12 L504.49 322.16 L505.86 321.19 L507.22 320.21 L508.59 319.23 L509.95 318.23 L511.32 317.23 L512.69 316.21 L514.05 315.19 L515.42 314.16 L516.78 313.12 L518.15 312.07 L519.52 311.01 L520.88 309.94 L522.25 308.86 L523.61 307.78 L524.98 306.68 L526.35 305.57 L527.71 304.45 L529.08 303.33 L530.44 302.19 L531.81 301.04 L533.18 299.88 L534.54 298.72 L535.91 297.54 L537.27 296.35 L538.64 295.15 L540.01 293.94 L541.37 292.72 L542.74 291.49 L544.1 290.25 L545.47 289 L546.84 287.74 L548.2 286.46 L549.57 285.18 L550.93 283.88 L552.3 282.57 L553.67 281.25 L555.03 279.92 L556.4 278.58 L557.76 277.23 L559.13 275.87 L560.5 274.49 L561.86 273.1 L563.23 271.7 L564.59 270.29 L565.96 268.87 L567.33 267.43 L568.69 265.98 L570.06 264.52 L571.42 263.05 L572.79 261.56 L574.16 260.07 L575.52 258.56 L576.89 257.03 L578.25 255.5 L579.62 253.95 L580.99 252.39 L582.35 250.81 L583.72 249.23 L585.08 247.63 L586.45 246.01 L587.82 244.39 L589.18 242.74 L590.55 241.09 L591.91 239.42 L593.28 237.74 L594.65 236.05 L596.01 234.34 L597.38 232.61 L598.74 230.88 L600.11 229.13 L601.48 227.36 L602.84 225.58 L604.21 223.79 L605.57 221.98 L606.94 220.15 L608.31 218.32 L609.67 216.46 L611.04 214.6 L612.4 212.71 L613.77 210.82 L615.14 208.9 L616.5 206.98 L617.87 205.03 L619.23 203.07 L620.6 201.1 L621.97 199.11 L623.33 197.1 L624.7 195.08 L626.06 193.05 L627.43 190.99 L628.8 188.92 L630.16 186.84 L631.53 184.74 L632.89 182.62 L634.26 180.48 L635.63 178.33 L636.99 176.16 L638.36 173.98 L639.72 171.78 L641.09 169.56 L642.46 167.32 L643.82 165.07 L645.19 162.8 L646.55 160.52 L647.92 158.21 L649.29 155.89 L650.65 153.55 L652.02 151.19 L653.38 148.82 L654.75 146.42 L656.12 144.01 L657.48 141.58 L658.85 139.13 L660.21 136.67 L661.58 134.18 L662.95 131.68 L664.31 129.16 L665.68 126.62 L667.04 124.06 L668.41 121.48 L669.78 118.88 L671.14 116.26 L672.51 113.63 L673.87 110.97 L675.24 108.3 L676.61 105.6 L677.97 102.89 L679.34 100.15 L680.7 97.4 L682.07 94.62 L683.44 91.83 L684.8 89.01 L686.17 86.18 L686.85 84.75" stroke="#0000ff" stroke-width="2.05" stroke-dasharray="8.3 4.15 2.08 4.15"/>
<path d="M142.5 415.63 L143.87 415.54 L145.23 415.45 L146.6 415.36 L147.96 415.27 L149.33 415.18 L150.7 415.09 L152.06 415 L153.43 414.9 L154.79 414.81 L156.16 414.71 L157.53 414.62 L158.89 414.52 L160.26 414.42 L161.62 414.32 L162.99 414.22 L164.36 414.11 L165.72 414.01 L167.09 413.9 L168.45 413.8 L169.82 413.69 L171.19 413.58 L172.55 413.48 L173.92 413.37 L175.28 413.25 L176.65 413.14 L178.02 413.03 L179.38 412.91 L180.75 412.8 L182.11 412.68 L183.48 412.56 L184.85 412.45 L186.21 412.33 L187.58 412.2 L188.94 412.08 L190.31 411.96 L191.68 411.83 L193.04 411.71 L194.41 411.58 L195.77 411.45 L197.14 411.33 L198.51 411.2 L199.87 411.06 L201.24 410.93 L202.6 410.8 L203.97 410.66 L205.34 410.53 L206.7 410.39 L208.07 410.25 L209.43 410.11 L210.8 409.97 L212.17 409.83 L213.53 409.68 L214.9 409.54 L216.26 409.39 L217.63 409.24 L219 409.09 L220.36 408.94 L221.73 408.79 L223.09 408.64 L224.46 408.48 L225.83 408.33 L227.19 408.17 L228.56 408.01 L229.92 407.85 L231.29 407.69 L232.66 407.53 L234.02 407.36 L235.39 407.2 L236.75 407.03 L238.12 406.86 L239.49 406.69 L240.85 406.52 L242.22 406.34 L243.58 406.17 L244.95 405.99 L246.32 405.81 L247.68 405.63 L249.05 405.45 L250.41 405.27 L251.78 405.08 L253.15 404.89 L254.51 404.71 L255.88 404.52 L257.24 404.32 L258.61 404.13 L259.98 403.93 L261.34 403.74 L262.71 403.54 L264.07 403.34 L265.44 403.13 L266.81 402.93 L268.17 402.72 L269.54 402.51 L270.9 402.3 L272.27 402.09 L273.64 401.88 L275 401.66 L276.37 401.44 L277.73 401.22 L279.1 401 L280.47 400.77 L281.83 400.55 L283.2 400.32 L284.56 400.09 L285.93 399.85 L287.3 399.62 L288.66 399.38 L290.03 399.14 L291.39 398.9 L292.76 398.65 L294.13 398.4 L295.49 398.16 L296.86 397.9 L298.22 397.65 L299.59 397.39 L300.96 397.13 L302.32 396.87 L303.69 396.61 L305.05 396.34 L306.42 396.07 L307.79 395.8 L309.15 395.53 L310.52 395.25 L311.88 394.97 L313.25 394.69 L314.62 394.4 L315.98 394.12 L317.35 393.83 L318.71 393.53 L320.08 393.24 L321.45 392.94 L322.81 392.63 L324.18 392.33 L325.54 392.02 L326.91 391.71 L328.28 391.4 L329.64 391.08 L331.01 390.76 L332.37 390.44 L333.74 390.11 L335.11 389.78 L336.47 389.45 L337.84 389.11 L339.2 388.77 L340.57 388.43 L341.94 388.09 L343.3 387.74 L344.67 387.38 L346.03 387.03 L347.4 386.67 L348.77 386.31 L350.13 385.94 L351.5 385.57 L352.86 385.2 L354.23 384.82 L355.6 384.44 L356.96 384.05 L358.33 383.66 L359.69 383.27 L361.06 382.88 L362.43 382.48 L363.79 382.07 L365.16 381.66 L366.52 381.25 L367.89 380.84 L369.26 380.42 L370.62 379.99 L371.99 379.56 L373.35 379.13 L374.72 378.7 L376.09 378.26 L377.45 377.81 L378.82 377.36 L380.18 376.91 L381.55 376.45 L382.92 375.99 L384.28 375.52 L385.65 375.05 L387.01 374.57 L388.38 374.09 L389.75 373.61 L391.11 373.12 L392.48 372.62 L393.84 372.13 L395.21 371.62 L396.58 371.11 L397.94 370.6 L399.31 370.08 L400.67 369.56 L402.04 369.03 L403.41 368.49 L404.77 367.95 L406.14 367.41 L407.5 366.86 L408.87 366.31 L410.24 365.75 L411.6 365.18 L412.97 364.61 L414.33 364.04 L415.7 363.45 L417.07 362.87 L418.43 362.28 L419.8 361.68 L421.16 361.07 L422.53 360.46 L423.9 359.85 L425.26 359.23 L426.63 358.6 L427.99 357.97 L429.36 357.33 L430.73 356.69 L432.09 356.04 L433.46 355.38 L434.82 354.72 L436.19 354.05 L437.56 353.37 L438.92 352.69 L440.29 352 L441.65 351.31 L443.02 350.61 L444.39 349.9 L445.75 349.19 L447.12 348.47 L448.48 347.74 L449.85 347.01 L451.22 346.27 L452.58 345.52 L453.95 344.77 L455.31 344.01 L456.68 343.24 L458.05 342.47 L459.41 341.68 L460.78 340.89 L462.14 340.1 L463.51 339.3 L464.88 338.49 L466.24 337.67 L467.61 336.84 L468.97 336.01 L470.34 335.17 L471.71 334.32 L473.07 333.47 L474.44 332.61 L475.8 331.74 L477.17 330.86 L478.54 329.97 L479.9 329.08 L481.27 328.18 L482.63 327.27 L484 326.35 L485.37 325.42 L486.73 324.49 L488.1 323.55 L489.46 322.6 L490.83 321.64 L492.2 320.67 L493.56 319.69 L494.93 318.71 L496.29 317.72 L497.66 316.72 L499.03 315.7 L500.39 314.69 L501.76 313.66 L503.12 312.62 L504.49 311.58 L505.86 310.52 L507.22 309.46 L508.59 308.39 L509.95 307.3 L511.32 306.21 L512.69 305.11 L514.05 304 L515.42 302.88 L516.78 301.75 L518.15 300.62 L519.52 299.47 L520.88 298.31 L522.25 297.14 L523.61 295.97 L524.98 294.78 L526.35 293.58 L527.71 292.38 L529.08 291.16 L530.44 289.93 L531.81 288.69 L533.18 287.45 L534.54 286.19 L535.91 284.92 L537.27 283.64 L538.64 282.35 L540.01 281.05 L541.37 279.74 L542.74 278.42 L544.1 277.09 L545.47 275.74 L546.84 274.39 L548.2 273.02 L549.57 271.65 L550.93 270.26 L552.3 268.86 L553.67 267.45 L555.03 266.03 L556.4 264.6 L557.76 263.16 L559.13 261.7 L560.5 260.23 L561.86 258.75 L563.23 257.26 L564.59 255.76 L565.96 254.25 L567.33 252.72 L568.69 251.18 L570.06 249.63 L571.42 248.07 L572.79 246.49 L574.16 244.9 L575.52 243.3 L576.89 241.69 L578.25 240.07 L579.62 238.43 L580.99 236.78 L582.35 235.11 L583.72 233.44 L585.08 231.75 L586.45 230.05 L587.82 228.33 L589.18 226.6 L590.55 224.86 L591.91 223.11 L593.28 221.34 L594.65 219.56 L596.01 217.76 L597.38 215.95 L598.74 214.13 L600.11 212.29 L601.48 210.44 L602.84 208.58 L604.21 206.7 L605.57 204.8 L606.94 202.9 L608.31 200.98 L609.67 199.04 L611.04 197.09 L612.4 195.13 L613.77 193.15 L615.14 191.15 L616.5 189.15 L617.87 187.12 L619.23 185.09 L620.6 183.03 L621.97 180.96 L623.33 178.88 L624.7 176.78 L626.06 174.67 L627.43 172.54 L628.8 170.39 L630.16 168.23 L631.53 166.06 L632.89 163.87 L634.26 161.66 L635.63 159.44 L636.99 157.2 L638.36 154.94 L639.72 152.67 L641.09 150.38 L642.46 148.08 L643.82 145.76 L645.19 143.42 L646.55 141.07 L647.92 138.7 L649.29 136.31 L650.65 133.91 L652.02 131.49 L653.38 129.05 L654.75 126.59 L656.12 124.12 L657.48 121.63 L658.85 119.13 L660.21 116.6 L661.58 114.06 L662.95 111.5 L664.31 108.92 L665.68 106.33 L667.04 103.72 L668.41 101.09 L669.78 98.44 L671.14 95.77 L672.51 93.09 L673.87 90.38 L675.24 87.66 L676.26 85.61" stroke="#ff0000" stroke-width="2.05" stroke-dasharray="8.3 4.15 2.08 4.15"/>
<path d="M142.5 399.46 L143.87 399.29 L145.23 399.11 L146.6 398.94 L147.96 398.76 L149.33 398.58 L150.7 398.4 L152.06 398.21 L153.43 398.03 L154.79 397.84 L156.16 397.65 L157.53 397.47 L158.89 397.27 L160.26 397.08 L161.62 396.89 L162.99 396.69 L164.36 396.49 L165.72 396.3 L167.09 396.09 L168.45 395.89 L169.82 395.69 L171.19 395.48 L172.55 395.27 L173.92 395.06 L175.28 394.85 L176.65 394.64 L178.02 394.43 L179.38 394.21 L180.75 393.99 L182.11 393.77 L183.48 393.55 L184.85 393.32 L186.21 393.1 L187.58 392.87 L188.94 392.64 L190.31 392.41 L191.68 392.18 L193.04 391.94 L194.41 391.7 L195.77 391.47 L197.14 391.22 L198.51 390.98 L199.87 390.74 L201.24 390.49 L202.6 390.24 L203.97 389.99 L205.34 389.74 L206.7 389.48 L208.07 389.22 L209.43 388.96 L210.8 388.7 L212.17 388.44 L213.53 388.17 L214.9 387.9 L216.26 387.63 L217.63 387.36 L219 387.09 L220.36 386.81 L221.73 386.53 L223.09 386.25 L224.46 385.97 L225.83 385.68 L227.19 385.39 L228.56 385.1 L229.92 384.81 L231.29 384.51 L232.66 384.22 L234.02 383.92 L235.39 383.61 L236.75 383.31 L238.12 383 L239.49 382.69 L240.85 382.38 L242.22 382.06 L243.58 381.75 L244.95 381.43 L246.32 381.11 L247.68 380.78 L249.05 380.45 L250.41 380.12 L251.78 379.79 L253.15 379.45 L254.51 379.12 L255.88 378.78 L257.24 378.43 L258.61 378.09 L259.98 377.74 L261.34 377.39 L262.71 377.03 L264.07 376.67 L265.44 376.31 L266.81 375.95 L268.17 375.58 L269.54 375.22 L270.9 374.84 L272.27 374.47 L273.64 374.09 L275 373.71 L276.37 373.33 L277.73 372.94 L279.1 372.55 L280.47 372.16 L281.83 371.76 L283.2 371.37 L284.56 370.96 L285.93 370.56 L287.3 370.15 L288.66 369.74 L290.03 369.32 L291.39 368.91 L292.76 368.49 L294.13 368.06 L295.49 367.63 L296.86 367.2 L298.22 366.77 L299.59 366.33 L300.96 365.89 L302.32 365.45 L303.69 365 L305.05 364.55 L306.42 364.09 L307.79 363.63 L309.15 363.17 L310.52 362.71 L311.88 362.24 L313.25 361.77 L314.62 361.29 L315.98 360.81 L317.35 360.33 L318.71 359.84 L320.08 359.35 L321.45 358.85 L322.81 358.36 L324.18 357.85 L325.54 357.35 L326.91 356.84 L328.28 356.33 L329.64 355.81 L331.01 355.29 L332.37 354.76 L333.74 354.23 L335.11 353.7 L336.47 353.16 L337.84 352.62 L339.2 352.08 L340.57 351.53 L341.94 350.97 L343.3 350.41 L344.67 349.85 L346.03 349.29 L347.4 348.72 L348.77 348.14 L350.13 347.56 L351.5 346.98 L352.86 346.39 L354.23 345.8 L355.6 345.2 L356.96 344.6 L358.33 344 L359.69 343.39 L361.06 342.77 L362.43 342.16 L363.79 341.53 L365.16 340.91 L366.52 340.27 L367.89 339.64 L369.26 338.99 L370.62 338.35 L371.99 337.7 L373.35 337.04 L374.72 336.38 L376.09 335.71 L377.45 335.04 L378.82 334.37 L380.18 333.69 L381.55 333 L382.92 332.31 L384.28 331.62 L385.65 330.92 L387.01 330.21 L388.38 329.5 L389.75 328.79 L391.11 328.07 L392.48 327.34 L393.84 326.61 L395.21 325.88 L396.58 325.13 L397.94 324.39 L399.31 323.64 L400.67 322.88 L402.04 322.12 L403.41 321.35 L404.77 320.57 L406.14 319.8 L407.5 319.01 L408.87 318.22 L410.24 317.43 L411.6 316.62 L412.97 315.82 L414.33 315 L415.7 314.19 L417.07 313.36 L418.43 312.53 L419.8 311.7 L421.16 310.86 L422.53 310.01 L423.9 309.15 L425.26 308.3 L426.63 307.43 L427.99 306.56 L429.36 305.68 L430.73 304.8 L432.09 303.91 L433.46 303.01 L434.82 302.11 L436.19 301.2 L437.56 300.29 L438.92 299.37 L440.29 298.44 L441.65 297.51 L443.02 296.57 L444.39 295.62 L445.75 294.67 L447.12 293.71 L448.48 292.75 L449.85 291.78 L451.22 290.8 L452.58 289.81 L453.95 288.82 L455.31 287.82 L456.68 286.82 L458.05 285.8 L459.41 284.79 L460.78 283.76 L462.14 282.73 L463.51 281.69 L464.88 280.64 L466.24 279.59 L467.61 278.53 L468.97 277.46 L470.34 276.39 L471.71 275.3 L473.07 274.22 L474.44 273.12 L475.8 272.02 L477.17 270.91 L478.54 269.79 L479.9 268.66 L481.27 267.53 L482.63 266.39 L484 265.24 L485.37 264.09 L486.73 262.92 L488.1 261.75 L489.46 260.57 L490.83 259.39 L492.2 258.2 L493.56 256.99 L494.93 255.79 L496.29 254.57 L497.66 253.34 L499.03 252.11 L500.39 250.87 L501.76 249.62 L503.12 248.37 L504.49 247.1 L505.86 245.83 L507.22 244.55 L508.59 243.26 L509.95 241.96 L511.32 240.66 L512.69 239.34 L514.05 238.02 L515.42 236.69 L516.78 235.35 L518.15 234 L519.52 232.65 L520.88 231.28 L522.25 229.91 L523.61 228.53 L524.98 227.14 L526.35 225.74 L527.71 224.33 L529.08 222.92 L530.44 221.49 L531.81 220.06 L533.18 218.61 L534.54 217.16 L535.91 215.7 L537.27 214.23 L538.64 212.75 L540.01 211.26 L541.37 209.76 L542.74 208.26 L544.1 206.74 L545.47 205.21 L546.84 203.68 L548.2 202.13 L549.57 200.58 L550.93 199.02 L552.3 197.44 L553.67 195.86 L555.03 194.27 L556.4 192.67 L557.76 191.06 L559.13 189.44 L560.5 187.81 L561.86 186.16 L563.23 184.51 L564.59 182.85 L565.96 181.18 L567.33 179.5 L568.69 177.81 L570.06 176.11 L571.42 174.4 L572.79 172.68 L574.16 170.95 L575.52 169.21 L576.89 167.45 L578.25 165.69 L579.62 163.92 L580.99 162.14 L582.35 160.34 L583.72 158.54 L585.08 156.72 L586.45 154.9 L587.82 153.06 L589.18 151.21 L590.55 149.36 L591.91 147.49 L593.28 145.61 L594.65 143.72 L596.01 141.81 L597.38 139.9 L598.74 137.98 L600.11 136.04 L601.48 134.1 L602.84 132.14 L604.21 130.17 L605.57 128.19 L606.94 126.2 L608.31 124.2 L609.67 122.18 L611.04 120.16 L612.4 118.12 L613.77 116.07 L615.14 114.01 L616.5 111.94 L617.87 109.85 L619.23 107.76 L620.6 105.65 L621.97 103.53 L623.33 101.4 L624.7 99.25 L626.06 97.1 L627.43 94.93 L628.8 92.75 L630.16 90.56 L631.53 88.35 L632.01 87.58" stroke="#00ff50" stroke-width="2.05" stroke-dasharray="8.3 8.3"/>
<path d="M142.5 404.74 L143.87 404.64 L145.23 404.54 L146.6 404.43 L147.96 404.32 L149.33 404.21 L150.7 404.1 L152.06 403.99 L153.43 403.87 L154.79 403.76 L156.16 403.64 L157.53 403.52 L158.89 403.39 L160.26 403.27 L161.62 403.15 L162.99 403.02 L164.36 402.89 L165.72 402.76 L167.09 402.63 L168.45 402.49 L169.82 402.36 L171.19 402.22 L172.55 402.08 L173.92 401.94 L175.28 401.8 L176.65 401.65 L178.02 401.51 L179.38 401.36 L180.75 401.21 L182.11 401.06 L183.48 400.91 L184.85 400.76 L186.21 400.6 L187.58 400.44 L188.94 400.28 L190.31 400.12 L191.68 399.96 L193.04 399.8 L194.41 399.63 L195.77 399.47 L197.14 399.3 L198.51 399.13 L199.87 398.95 L201.24 398.78 L202.6 398.6 L203.97 398.43 L205.34 398.25 L206.7 398.07 L208.07 397.89 L209.43 397.7 L210.8 397.52 L212.17 397.33 L213.53 397.14 L214.9 396.95 L216.26 396.76 L217.63 396.56 L219 396.37 L220.36 396.17 L221.73 395.97 L223.09 395.77 L224.46 395.56 L225.83 395.36 L227.19 395.15 L228.56 394.94 L229.92 394.73 L231.29 394.52 L232.66 394.31 L234.02 394.09 L235.39 393.87 L236.75 393.65 L238.12 393.43 L239.49 393.21 L240.85 392.98 L242.22 392.76 L243.58 392.53 L244.95 392.3 L246.32 392.07 L247.68 391.83 L249.05 391.59 L250.41 391.36 L251.78 391.12 L253.15 390.87 L254.51 390.63 L255.88 390.38 L257.24 390.13 L258.61 389.88 L259.98 389.63 L261.34 389.38 L262.71 389.12 L264.07 388.86 L265.44 388.6 L266.81 388.34 L268.17 388.07 L269.54 387.81 L270.9 387.54 L272.27 387.26 L273.64 386.99 L275 386.71 L276.37 386.44 L277.73 386.16 L279.1 385.87 L280.47 385.59 L281.83 385.3 L283.2 385.01 L284.56 384.72 L285.93 384.42 L287.3 384.13 L288.66 383.83 L290.03 383.53 L291.39 383.22 L292.76 382.92 L294.13 382.61 L295.49 382.3 L296.86 381.98 L298.22 381.66 L299.59 381.35 L300.96 381.02 L302.32 380.7 L303.69 380.37 L305.05 380.04 L306.42 379.71 L307.79 379.38 L309.15 379.04 L310.52 378.7 L311.88 378.35 L313.25 378.01 L314.62 377.66 L315.98 377.31 L317.35 376.95 L318.71 376.6 L320.08 376.24 L321.45 375.87 L322.81 375.51 L324.18 375.14 L325.54 374.76 L326.91 374.39 L328.28 374.01 L329.64 373.63 L331.01 373.24 L332.37 372.86 L333.74 372.47 L335.11 372.07 L336.47 371.67 L337.84 371.27 L339.2 370.87 L340.57 370.46 L341.94 370.05 L343.3 369.64 L344.67 369.22 L346.03 368.8 L347.4 368.37 L348.77 367.95 L350.13 367.51 L351.5 367.08 L352.86 366.64 L354.23 366.2 L355.6 365.75 L356.96 365.3 L358.33 364.85 L359.69 364.39 L361.06 363.93 L362.43 363.47 L363.79 363 L365.16 362.53 L366.52 362.05 L367.89 361.57 L369.26 361.08 L370.62 360.6 L371.99 360.1 L373.35 359.61 L374.72 359.11 L376.09 358.6 L377.45 358.09 L378.82 357.58 L380.18 357.06 L381.55 356.54 L382.92 356.01 L384.28 355.48 L385.65 354.95 L387.01 354.41 L388.38 353.86 L389.75 353.32 L391.11 352.76 L392.48 352.2 L393.84 351.64 L395.21 351.07 L396.58 350.5 L397.94 349.93 L399.31 349.34 L400.67 348.76 L402.04 348.17 L403.41 347.57 L404.77 346.97 L406.14 346.36 L407.5 345.75 L408.87 345.13 L410.24 344.51 L411.6 343.89 L412.97 343.25 L414.33 342.62 L415.7 341.97 L417.07 341.33 L418.43 340.67 L419.8 340.01 L421.16 339.35 L422.53 338.68 L423.9 338 L425.26 337.32 L426.63 336.64 L427.99 335.94 L429.36 335.24 L430.73 334.54 L432.09 333.83 L433.46 333.11 L434.82 332.39 L436.19 331.66 L437.56 330.93 L438.92 330.19 L440.29 329.44 L441.65 328.69 L443.02 327.93 L444.39 327.17 L445.75 326.4 L447.12 325.62 L448.48 324.84 L449.85 324.04 L451.22 323.25 L452.58 322.44 L453.95 321.63 L455.31 320.82 L456.68 319.99 L458.05 319.16 L459.41 318.32 L460.78 317.48 L462.14 316.63 L463.51 315.77 L464.88 314.91 L466.24 314.03 L467.61 313.15 L468.97 312.27 L470.34 311.37 L471.71 310.47 L473.07 309.56 L474.44 308.65 L475.8 307.72 L477.17 306.79 L478.54 305.85 L479.9 304.91 L481.27 303.95 L482.63 302.99 L484 302.02 L485.37 301.04 L486.73 300.06 L488.1 299.06 L489.46 298.06 L490.83 297.05 L492.2 296.04 L493.56 295.01 L494.93 293.98 L496.29 292.93 L497.66 291.88 L499.03 290.82 L500.39 289.75 L501.76 288.68 L503.12 287.59 L504.49 286.5 L505.86 285.4 L507.22 284.29 L508.59 283.16 L509.95 282.04 L511.32 280.9 L512.69 279.75 L514.05 278.59 L515.42 277.43 L516.78 276.25 L518.15 275.07 L519.52 273.88 L520.88 272.67 L522.25 271.46 L523.61 270.24 L524.98 269.01 L526.35 267.77 L527.71 266.52 L529.08 265.26 L530.44 263.98 L531.81 262.7 L533.18 261.41 L534.54 260.11 L535.91 258.8 L537.27 257.48 L538.64 256.15 L540.01 254.81 L541.37 253.46 L542.74 252.09 L544.1 250.72 L545.47 249.34 L546.84 247.94 L548.2 246.54 L549.57 245.12 L550.93 243.7 L552.3 242.26 L553.67 240.81 L555.03 239.35 L556.4 237.88 L557.76 236.4 L559.13 234.9 L560.5 233.4 L561.86 231.88 L563.23 230.36 L564.59 228.82 L565.96 227.27 L567.33 225.7 L568.69 224.13 L570.06 222.54 L571.42 220.94 L572.79 219.33 L574.16 217.71 L575.52 216.08 L576.89 214.43 L578.25 212.77 L579.62 211.1 L580.99 209.42 L582.35 207.72 L583.72 206.01 L585.08 204.29 L586.45 202.56 L587.82 200.81 L589.18 199.05 L590.55 197.28 L591.91 195.49 L593.28 193.69 L594.65 191.88 L596.01 190.05 L597.38 188.21 L598.74 186.36 L600.11 184.49 L601.48 182.61 L602.84 180.72 L604.21 178.81 L605.57 176.89 L606.94 174.96 L608.31 173.01 L609.67 171.05 L611.04 169.07 L612.4 167.08 L613.77 165.07 L615.14 163.05 L616.5 161.02 L617.87 158.97 L619.23 156.91 L620.6 154.83 L621.97 152.73 L623.33 150.63 L624.7 148.5 L626.06 146.37 L627.43 144.21 L628.8 142.04 L630.16 139.86 L631.53 137.66 L632.89 135.45 L634.26 133.22 L635.63 130.97 L636.99 128.71 L638.36 126.43 L639.72 124.14 L641.09 121.83 L642.46 119.5 L643.82 117.16 L645.19 114.8 L646.55 112.43 L647.92 110.04 L649.29 107.63 L650.65 105.21 L652.02 102.77 L653.38 100.31 L654.75 97.84 L656.12 95.35 L657.48 92.84 L658.85 90.32 L660.21 87.77 L660.9 86.5" stroke="#0000ff" stroke-width="2.05" stroke-dasharray="8.3 8.3"/>
<path d="M142.5 402.5 L143.87 402.37 L145.23 402.23 L146.6 402.1 L147.96 401.96 L149.33 401.82 L150.7 401.68 L152.06 401.54 L153.43 401.39 L154.79 401.25 L156.16 401.1 L157.53 400.96 L158.89 400.81 L160.26 400.66 L161.62 400.5 L162.99 400.35 L164.36 400.2 L165.72 400.04 L167.09 399.88 L168.45 399.72 L169.82 399.56 L171.19 399.4 L172.55 399.23 L173.92 399.07 L175.28 398.9 L176.65 398.73 L178.02 398.56 L179.38 398.39 L180.75 398.22 L182.11 398.04 L183.48 397.86 L184.85 397.69 L186.21 397.51 L187.58 397.33 L188.94 397.14 L190.31 396.96 L191.68 396.77 L193.04 396.58 L194.41 396.39 L195.77 396.2 L197.14 396.01 L198.51 395.82 L199.87 395.62 L201.24 395.42 L202.6 395.22 L203.97 395.02 L205.34 394.82 L206.7 394.61 L208.07 394.41 L209.43 394.2 L210.8 393.99 L212.17 393.78 L213.53 393.56 L214.9 393.35 L216.26 393.13 L217.63 392.91 L219 392.69 L220.36 392.47 L221.73 392.24 L223.09 392.02 L224.46 391.79 L225.83 391.56 L227.19 391.33 L228.56 391.09 L229.92 390.86 L231.29 390.62 L232.66 390.38 L234.02 390.14 L235.39 389.89 L236.75 389.65 L238.12 389.4 L239.49 389.15 L240.85 388.9 L242.22 388.64 L243.58 388.39 L244.95 388.13 L246.32 387.87 L247.68 387.6 L249.05 387.34 L250.41 387.07 L251.78 386.8 L253.15 386.53 L254.51 386.26 L255.88 385.98 L257.24 385.71 L258.61 385.43 L259.98 385.14 L261.34 384.86 L262.71 384.57 L264.07 384.28 L265.44 383.99 L266.81 383.7 L268.17 383.4 L269.54 383.1 L270.9 382.8 L272.27 382.5 L273.64 382.19 L275 381.88 L276.37 381.57 L277.73 381.26 L279.1 380.94 L280.47 380.62 L281.83 380.3 L283.2 379.98 L284.56 379.65 L285.93 379.32 L287.3 378.99 L288.66 378.65 L290.03 378.31 L291.39 377.97 L292.76 377.63 L294.13 377.29 L295.49 376.94 L296.86 376.59 L298.22 376.23 L299.59 375.87 L300.96 375.51 L302.32 375.15 L303.69 374.78 L305.05 374.42 L306.42 374.04 L307.79 373.67 L309.15 373.29 L310.52 372.91 L311.88 372.52 L313.25 372.14 L314.62 371.75 L315.98 371.35 L317.35 370.96 L318.71 370.55 L320.08 370.15 L321.45 369.74 L322.81 369.33 L324.18 368.92 L325.54 368.5 L326.91 368.08 L328.28 367.66 L329.64 367.23 L331.01 366.8 L332.37 366.37 L333.74 365.93 L335.11 365.49 L336.47 365.04 L337.84 364.6 L339.2 364.14 L340.57 363.69 L341.94 363.23 L343.3 362.76 L344.67 362.3 L346.03 361.83 L347.4 361.35 L348.77 360.87 L350.13 360.39 L351.5 359.9 L352.86 359.41 L354.23 358.92 L355.6 358.42 L356.96 357.92 L358.33 357.41 L359.69 356.9 L361.06 356.39 L362.43 355.87 L363.79 355.35 L365.16 354.82 L366.52 354.29 L367.89 353.75 L369.26 353.21 L370.62 352.67 L371.99 352.12 L373.35 351.56 L374.72 351 L376.09 350.44 L377.45 349.88 L378.82 349.3 L380.18 348.73 L381.55 348.15 L382.92 347.56 L384.28 346.97 L385.65 346.38 L387.01 345.78 L388.38 345.17 L389.75 344.56 L391.11 343.95 L392.48 343.33 L393.84 342.7 L395.21 342.07 L396.58 341.44 L397.94 340.8 L399.31 340.15 L400.67 339.5 L402.04 338.85 L403.41 338.19 L404.77 337.52 L406.14 336.85 L407.5 336.18 L408.87 335.49 L410.24 334.81 L411.6 334.11 L412.97 333.42 L414.33 332.71 L415.7 332 L417.07 331.29 L418.43 330.57 L419.8 329.84 L421.16 329.11 L422.53 328.37 L423.9 327.63 L425.26 326.88 L426.63 326.12 L427.99 325.36 L429.36 324.59 L430.73 323.82 L432.09 323.04 L433.46 322.25 L434.82 321.46 L436.19 320.66 L437.56 319.86 L438.92 319.05 L440.29 318.23 L441.65 317.41 L443.02 316.58 L444.39 315.74 L445.75 314.9 L447.12 314.05 L448.48 313.19 L449.85 312.33 L451.22 311.46 L452.58 310.58 L453.95 309.7 L455.31 308.81 L456.68 307.91 L458.05 307.01 L459.41 306.1 L460.78 305.18 L462.14 304.26 L463.51 303.32 L464.88 302.38 L466.24 301.44 L467.61 300.48 L468.97 299.52 L470.34 298.55 L471.71 297.58 L473.07 296.6 L474.44 295.6 L475.8 294.61 L477.17 293.6 L478.54 292.59 L479.9 291.57 L481.27 290.54 L482.63 289.5 L484 288.46 L485.37 287.4 L486.73 286.34 L488.1 285.27 L489.46 284.2 L490.83 283.11 L492.2 282.02 L493.56 280.92 L494.93 279.81 L496.29 278.69 L497.66 277.57 L499.03 276.43 L500.39 275.29 L501.76 274.14 L503.12 272.98 L504.49 271.81 L505.86 270.63 L507.22 269.45 L508.59 268.25 L509.95 267.05 L511.32 265.84 L512.69 264.62 L514.05 263.39 L515.42 262.15 L516.78 260.9 L518.15 259.64 L519.52 258.37 L520.88 257.1 L522.25 255.81 L523.61 254.52 L524.98 253.21 L526.35 251.9 L527.71 250.58 L529.08 249.24 L530.44 247.9 L531.81 246.55 L533.18 245.19 L534.54 243.82 L535.91 242.43 L537.27 241.04 L538.64 239.64 L540.01 238.23 L541.37 236.81 L542.74 235.37 L544.1 233.93 L545.47 232.48 L546.84 231.02 L548.2 229.54 L549.57 228.06 L550.93 226.57 L552.3 225.06 L553.67 223.55 L555.03 222.02 L556.4 220.48 L557.76 218.94 L559.13 217.38 L560.5 215.81 L561.86 214.23 L563.23 212.64 L564.59 211.03 L565.96 209.42 L567.33 207.79 L568.69 206.16 L570.06 204.51 L571.42 202.85 L572.79 201.18 L574.16 199.5 L575.52 197.8 L576.89 196.1 L578.25 194.38 L579.62 192.65 L580.99 190.91 L582.35 189.16 L583.72 187.39 L585.08 185.61 L586.45 183.82 L587.82 182.02 L589.18 180.21 L590.55 178.38 L591.91 176.54 L593.28 174.69 L594.65 172.83 L596.01 170.95 L597.38 169.07 L598.74 167.16 L600.11 165.25 L601.48 163.32 L602.84 161.38 L604.21 159.43 L605.57 157.46 L606.94 155.48 L608.31 153.49 L609.67 151.49 L611.04 149.47 L612.4 147.44 L613.77 145.39 L615.14 143.33 L616.5 141.26 L617.87 139.17 L619.23 137.07 L620.6 134.96 L621.97 132.83 L623.33 130.69 L624.7 128.53 L626.06 126.36 L627.43 124.18 L628.8 121.98 L630.16 119.76 L631.53 117.54 L632.89 115.3 L634.26 113.04 L635.63 110.77 L636.99 108.48 L638.36 106.18 L639.72 103.87 L641.09 101.54 L642.46 99.19 L643.82 96.84 L645.19 94.46 L646.55 92.07 L647.92 89.67 L649.29 87.25 L649.97 86.03" stroke="#ff0000" stroke-width="2.05" stroke-dasharray="8.3 8.3"/>
<path d="M142.5 383.16 L143.87 382.93 L145.23 382.69 L146.6 382.46 L147.96 382.22 L149.33 381.98 L150.7 381.74 L152.06 381.5 L153.43 381.25 L154.79 381 L156.16 380.75 L157.53 380.5 L158.89 380.25 L160.26 379.99 L161.62 379.74 L162.99 379.48 L164.36 379.21 L165.72 378.95 L167.09 378.68 L168.45 378.42 L169.82 378.14 L171.19 377.87 L172.55 377.6 L173.92 377.32 L175.28 377.04 L176.65 376.76 L178.02 376.48 L179.38 376.19 L180.75 375.9 L182.11 375.61 L183.48 375.32 L184.85 375.03 L186.21 374.73 L187.58 374.43 L188.94 374.13 L190.31 373.83 L191.68 373.52 L193.04 373.22 L194.41 372.91 L195.77 372.59 L197.14 372.28 L198.51 371.96 L199.87 371.64 L201.24 371.32 L202.6 371 L203.97 370.67 L205.34 370.34 L206.7 370.01 L208.07 369.68 L209.43 369.34 L210.8 369.01 L212.17 368.66 L213.53 368.32 L214.9 367.98 L216.26 367.63 L217.63 367.28 L219 366.92 L220.36 366.57 L221.73 366.21 L223.09 365.85 L224.46 365.49 L225.83 365.12 L227.19 364.75 L228.56 364.38 L229.92 364.01 L231.29 363.64 L232.66 363.26 L234.02 362.88 L235.39 362.49 L236.75 362.11 L238.12 361.72 L239.49 361.33 L240.85 360.93 L242.22 360.53 L243.58 360.13 L244.95 359.73 L246.32 359.33 L247.68 358.92 L249.05 358.51 L250.41 358.09 L251.78 357.68 L253.15 357.26 L254.51 356.84 L255.88 356.41 L257.24 355.98 L258.61 355.55 L259.98 355.12 L261.34 354.68 L262.71 354.24 L264.07 353.8 L265.44 353.36 L266.81 352.91 L268.17 352.46 L269.54 352 L270.9 351.55 L272.27 351.09 L273.64 350.62 L275 350.16 L276.37 349.69 L277.73 349.21 L279.1 348.74 L280.47 348.26 L281.83 347.78 L283.2 347.29 L284.56 346.8 L285.93 346.31 L287.3 345.81 L288.66 345.32 L290.03 344.81 L291.39 344.31 L292.76 343.8 L294.13 343.29 L295.49 342.77 L296.86 342.26 L298.22 341.73 L299.59 341.21 L300.96 340.68 L302.32 340.15 L303.69 339.61 L305.05 339.07 L306.42 338.53 L307.79 337.98 L309.15 337.43 L310.52 336.88 L311.88 336.32 L313.25 335.76 L314.62 335.2 L315.98 334.63 L317.35 334.06 L318.71 333.48 L320.08 332.91 L321.45 332.32 L322.81 331.74 L324.18 331.15 L325.54 330.55 L326.91 329.95 L328.28 329.35 L329.64 328.75 L331.01 328.14 L332.37 327.52 L333.74 326.91 L335.11 326.28 L336.47 325.66 L337.84 325.03 L339.2 324.4 L340.57 323.76 L341.94 323.12 L343.3 322.47 L344.67 321.82 L346.03 321.17 L347.4 320.51 L348.77 319.85 L350.13 319.18 L351.5 318.51 L352.86 317.83 L354.23 317.15 L355.6 316.47 L356.96 315.78 L358.33 315.09 L359.69 314.39 L361.06 313.69 L362.43 312.99 L363.79 312.28 L365.16 311.56 L366.52 310.84 L367.89 310.12 L369.26 309.39 L370.62 308.66 L371.99 307.92 L373.35 307.18 L374.72 306.43 L376.09 305.68 L377.45 304.92 L378.82 304.16 L380.18 303.39 L381.55 302.62 L382.92 301.85 L384.28 301.07 L385.65 300.28 L387.01 299.49 L388.38 298.69 L389.75 297.89 L391.11 297.09 L392.48 296.28 L393.84 295.46 L395.21 294.64 L396.58 293.82 L397.94 292.99 L399.31 292.15 L400.67 291.31 L402.04 290.46 L403.41 289.61 L404.77 288.75 L406.14 287.89 L407.5 287.02 L408.87 286.15 L410.24 285.27 L411.6 284.39 L412.97 283.5 L414.33 282.6 L415.7 281.7 L417.07 280.8 L418.43 279.88 L419.8 278.97 L421.16 278.04 L422.53 277.12 L423.9 276.18 L425.26 275.24 L426.63 274.29 L427.99 273.34 L429.36 272.39 L430.73 271.42 L432.09 270.45 L433.46 269.48 L434.82 268.5 L436.19 267.51 L437.56 266.52 L438.92 265.52 L440.29 264.51 L441.65 263.5 L443.02 262.48 L444.39 261.46 L445.75 260.43 L447.12 259.39 L448.48 258.35 L449.85 257.3 L451.22 256.24 L452.58 255.18 L453.95 254.11 L455.31 253.04 L456.68 251.96 L458.05 250.87 L459.41 249.78 L460.78 248.67 L462.14 247.57 L463.51 246.45 L464.88 245.33 L466.24 244.2 L467.61 243.07 L468.97 241.93 L470.34 240.78 L471.71 239.63 L473.07 238.46 L474.44 237.29 L475.8 236.12 L477.17 234.94 L478.54 233.75 L479.9 232.55 L481.27 231.35 L482.63 230.13 L484 228.92 L485.37 227.69 L486.73 226.46 L488.1 225.22 L489.46 223.97 L490.83 222.71 L492.2 221.45 L493.56 220.18 L494.93 218.9 L496.29 217.62 L497.66 216.33 L499.03 215.03 L500.39 213.72 L501.76 212.4 L503.12 211.08 L504.49 209.75 L505.86 208.41 L507.22 207.06 L508.59 205.71 L509.95 204.35 L511.32 202.98 L512.69 201.6 L514.05 200.21 L515.42 198.82 L516.78 197.42 L518.15 196.01 L519.52 194.59 L520.88 193.16 L522.25 191.72 L523.61 190.28 L524.98 188.83 L526.35 187.37 L527.71 185.9 L529.08 184.42 L530.44 182.94 L531.81 181.44 L533.18 179.94 L534.54 178.43 L535.91 176.91 L537.27 175.38 L538.64 173.84 L540.01 172.29 L541.37 170.74 L542.74 169.17 L544.1 167.6 L545.47 166.02 L546.84 164.43 L548.2 162.83 L549.57 161.22 L550.93 159.6 L552.3 157.97 L553.67 156.34 L555.03 154.69 L556.4 153.04 L557.76 151.37 L559.13 149.7 L560.5 148.01 L561.86 146.32 L563.23 144.62 L564.59 142.91 L565.96 141.18 L567.33 139.45 L568.69 137.71 L570.06 135.96 L571.42 134.2 L572.79 132.43 L574.16 130.65 L575.52 128.86 L576.89 127.06 L578.25 125.25 L579.62 123.43 L580.99 121.6 L582.35 119.76 L583.72 117.91 L585.08 116.05 L586.45 114.18 L587.82 112.29 L589.18 110.4 L590.55 108.5 L591.91 106.59 L593.28 104.66 L594.65 102.73 L596.01 100.79 L597.38 98.83 L598.74 96.87 L600.11 94.89 L601.48 92.9 L602.84 90.9 L604.21 88.89 L604.89 87.89" stroke="#00ff50" stroke-width="2.05" stroke-dasharray="2 3.8"/>
<path d="M142.5 394.26 L143.87 394.12 L145.23 393.97 L146.6 393.82 L147.96 393.66 L149.33 393.51 L150.7 393.35 L152.06 393.19 L153.43 393.03 L154.79 392.87 L156.16 392.71 L157.53 392.54 L158.89 392.37 L160.26 392.2 L161.62 392.03 L162.99 391.86 L164.36 391.68 L165.72 391.51 L167.09 391.33 L168.45 391.15 L169.82 390.96 L171.19 390.78 L172.55 390.59 L173.92 390.4 L175.28 390.21 L176.65 390.02 L178.02 389.83 L179.38 389.63 L180.75 389.44 L182.11 389.24 L183.48 389.03 L184.85 388.83 L186.21 388.63 L187.58 388.42 L188.94 388.21 L190.31 388 L191.68 387.79 L193.04 387.57 L194.41 387.36 L195.77 387.14 L197.14 386.92 L198.51 386.69 L199.87 386.47 L201.24 386.24 L202.6 386.01 L203.97 385.78 L205.34 385.55 L206.7 385.32 L208.07 385.08 L209.43 384.84 L210.8 384.6 L212.17 384.36 L213.53 384.11 L214.9 383.87 L216.26 383.62 L217.63 383.37 L219 383.11 L220.36 382.86 L221.73 382.6 L223.09 382.34 L224.46 382.08 L225.83 381.81 L227.19 381.55 L228.56 381.28 L229.92 381.01 L231.29 380.74 L232.66 380.46 L234.02 380.19 L235.39 379.91 L236.75 379.63 L238.12 379.34 L239.49 379.06 L240.85 378.77 L242.22 378.48 L243.58 378.19 L244.95 377.89 L246.32 377.59 L247.68 377.29 L249.05 376.99 L250.41 376.69 L251.78 376.38 L253.15 376.07 L254.51 375.76 L255.88 375.44 L257.24 375.13 L258.61 374.81 L259.98 374.49 L261.34 374.16 L262.71 373.84 L264.07 373.51 L265.44 373.18 L266.81 372.84 L268.17 372.51 L269.54 372.17 L270.9 371.82 L272.27 371.48 L273.64 371.13 L275 370.78 L276.37 370.43 L277.73 370.07 L279.1 369.72 L280.47 369.36 L281.83 368.99 L283.2 368.63 L284.56 368.26 L285.93 367.88 L287.3 367.51 L288.66 367.13 L290.03 366.75 L291.39 366.37 L292.76 365.98 L294.13 365.59 L295.49 365.2 L296.86 364.81 L298.22 364.41 L299.59 364.01 L300.96 363.6 L302.32 363.2 L303.69 362.79 L305.05 362.37 L306.42 361.96 L307.79 361.54 L309.15 361.11 L310.52 360.69 L311.88 360.26 L313.25 359.83 L314.62 359.39 L315.98 358.95 L317.35 358.51 L318.71 358.06 L320.08 357.62 L321.45 357.16 L322.81 356.71 L324.18 356.25 L325.54 355.79 L326.91 355.32 L328.28 354.85 L329.64 354.38 L331.01 353.9 L332.37 353.42 L333.74 352.94 L335.11 352.45 L336.47 351.96 L337.84 351.46 L339.2 350.96 L340.57 350.46 L341.94 349.96 L343.3 349.45 L344.67 348.93 L346.03 348.42 L347.4 347.9 L348.77 347.37 L350.13 346.84 L351.5 346.31 L352.86 345.77 L354.23 345.23 L355.6 344.69 L356.96 344.14 L358.33 343.58 L359.69 343.03 L361.06 342.46 L362.43 341.9 L363.79 341.33 L365.16 340.76 L366.52 340.18 L367.89 339.59 L369.26 339.01 L370.62 338.42 L371.99 337.82 L373.35 337.22 L374.72 336.62 L376.09 336.01 L377.45 335.39 L378.82 334.77 L380.18 334.15 L381.55 333.52 L382.92 332.89 L384.28 332.26 L385.65 331.61 L387.01 330.97 L388.38 330.32 L389.75 329.66 L391.11 329 L392.48 328.34 L393.84 327.67 L395.21 326.99 L396.58 326.31 L397.94 325.62 L399.31 324.93 L400.67 324.24 L402.04 323.54 L403.41 322.83 L404.77 322.12 L406.14 321.4 L407.5 320.68 L408.87 319.96 L410.24 319.22 L411.6 318.49 L412.97 317.74 L414.33 317 L415.7 316.24 L417.07 315.48 L418.43 314.72 L419.8 313.95 L421.16 313.17 L422.53 312.39 L423.9 311.6 L425.26 310.81 L426.63 310.01 L427.99 309.2 L429.36 308.39 L430.73 307.58 L432.09 306.75 L433.46 305.93 L434.82 305.09 L436.19 304.25 L437.56 303.4 L438.92 302.55 L440.29 301.69 L441.65 300.83 L443.02 299.96 L444.39 299.08 L445.75 298.19 L447.12 297.3 L448.48 296.41 L449.85 295.5 L451.22 294.59 L452.58 293.68 L453.95 292.75 L455.31 291.82 L456.68 290.89 L458.05 289.94 L459.41 288.99 L460.78 288.04 L462.14 287.07 L463.51 286.1 L464.88 285.12 L466.24 284.14 L467.61 283.15 L468.97 282.15 L470.34 281.14 L471.71 280.13 L473.07 279.11 L474.44 278.08 L475.8 277.05 L477.17 276.01 L478.54 274.96 L479.9 273.9 L481.27 272.84 L482.63 271.76 L484 270.69 L485.37 269.6 L486.73 268.5 L488.1 267.4 L489.46 266.29 L490.83 265.17 L492.2 264.05 L493.56 262.91 L494.93 261.77 L496.29 260.62 L497.66 259.46 L499.03 258.3 L500.39 257.12 L501.76 255.94 L503.12 254.75 L504.49 253.55 L505.86 252.35 L507.22 251.13 L508.59 249.91 L509.95 248.67 L511.32 247.43 L512.69 246.18 L514.05 244.93 L515.42 243.66 L516.78 242.38 L518.15 241.1 L519.52 239.81 L520.88 238.5 L522.25 237.19 L523.61 235.87 L524.98 234.54 L526.35 233.21 L527.71 231.86 L529.08 230.5 L530.44 229.14 L531.81 227.76 L533.18 226.38 L534.54 224.98 L535.91 223.58 L537.27 222.17 L538.64 220.74 L540.01 219.31 L541.37 217.87 L542.74 216.42 L544.1 214.96 L545.47 213.48 L546.84 212 L548.2 210.51 L549.57 209.01 L550.93 207.5 L552.3 205.98 L553.67 204.45 L555.03 202.9 L556.4 201.35 L557.76 199.79 L559.13 198.22 L560.5 196.63 L561.86 195.04 L563.23 193.43 L564.59 191.82 L565.96 190.19 L567.33 188.56 L568.69 186.91 L570.06 185.25 L571.42 183.58 L572.79 181.9 L574.16 180.21 L575.52 178.51 L576.89 176.79 L578.25 175.07 L579.62 173.33 L580.99 171.58 L582.35 169.83 L583.72 168.06 L585.08 166.27 L586.45 164.48 L587.82 162.67 L589.18 160.86 L590.55 159.03 L591.91 157.19 L593.28 155.34 L594.65 153.47 L596.01 151.6 L597.38 149.71 L598.74 147.81 L600.11 145.89 L601.48 143.97 L602.84 142.03 L604.21 140.08 L605.57 138.12 L606.94 136.14 L608.31 134.16 L609.67 132.16 L611.04 130.14 L612.4 128.12 L613.77 126.08 L615.14 124.03 L616.5 121.96 L617.87 119.89 L619.23 117.8 L620.6 115.69 L621.97 113.58 L623.33 111.45 L624.7 109.3 L626.06 107.15 L627.43 104.98 L628.8 102.79 L630.16 100.59 L631.53 98.38 L632.89 96.16 L634.26 93.92 L635.63 91.67 L636.99 89.4 L638.36 87.12 L638.36 87.12" stroke="#0000ff" stroke-width="2.05" stroke-dasharray="2 3.8"/>
<path d="M142.5 390.11 L143.87 389.92 L145.23 389.72 L146.6 389.53 L147.96 389.33 L149.33 389.13 L150.7 388.93 L152.06 388.73 L153.43 388.53 L154.79 388.32 L156.16 388.12 L157.53 387.91 L158.89 387.7 L160.26 387.49 L161.62 387.28 L162.99 387.07 L164.36 386.86 L165.72 386.64 L167.09 386.42 L168.45 386.21 L169.82 385.99 L171.19 385.76 L172.55 385.54 L173.92 385.32 L175.28 385.09 L176.65 384.86 L178.02 384.63 L179.38 384.4 L180.75 384.17 L182.11 383.94 L183.48 383.7 L184.85 383.46 L186.21 383.23 L187.58 382.98 L188.94 382.74 L190.31 382.5 L191.68 382.25 L193.04 382.01 L194.41 381.76 L195.77 381.5 L197.14 381.25 L198.51 381 L199.87 380.74 L201.24 380.48 L202.6 380.22 L203.97 379.96 L205.34 379.7 L206.7 379.43 L208.07 379.16 L209.43 378.89 L210.8 378.62 L212.17 378.35 L213.53 378.07 L214.9 377.79 L216.26 377.51 L217.63 377.23 L219 376.95 L220.36 376.66 L221.73 376.38 L223.09 376.09 L224.46 375.79 L225.83 375.5 L227.19 375.2 L228.56 374.9 L229.92 374.6 L231.29 374.3 L232.66 374 L234.02 373.69 L235.39 373.38 L236.75 373.07 L238.12 372.75 L239.49 372.44 L240.85 372.12 L242.22 371.8 L243.58 371.47 L244.95 371.15 L246.32 370.82 L247.68 370.49 L249.05 370.15 L250.41 369.82 L251.78 369.48 L253.15 369.14 L254.51 368.8 L255.88 368.45 L257.24 368.1 L258.61 367.75 L259.98 367.4 L261.34 367.04 L262.71 366.68 L264.07 366.32 L265.44 365.96 L266.81 365.59 L268.17 365.22 L269.54 364.85 L270.9 364.47 L272.27 364.09 L273.64 363.71 L275 363.33 L276.37 362.94 L277.73 362.55 L279.1 362.16 L280.47 361.76 L281.83 361.36 L283.2 360.96 L284.56 360.56 L285.93 360.15 L287.3 359.74 L288.66 359.33 L290.03 358.91 L291.39 358.49 L292.76 358.07 L294.13 357.64 L295.49 357.21 L296.86 356.78 L298.22 356.34 L299.59 355.91 L300.96 355.46 L302.32 355.02 L303.69 354.57 L305.05 354.12 L306.42 353.66 L307.79 353.2 L309.15 352.74 L310.52 352.27 L311.88 351.8 L313.25 351.33 L314.62 350.85 L315.98 350.37 L317.35 349.89 L318.71 349.4 L320.08 348.91 L321.45 348.42 L322.81 347.92 L324.18 347.42 L325.54 346.91 L326.91 346.4 L328.28 345.89 L329.64 345.37 L331.01 344.85 L332.37 344.33 L333.74 343.8 L335.11 343.27 L336.47 342.73 L337.84 342.19 L339.2 341.64 L340.57 341.09 L341.94 340.54 L343.3 339.99 L344.67 339.42 L346.03 338.86 L347.4 338.29 L348.77 337.72 L350.13 337.14 L351.5 336.56 L352.86 335.97 L354.23 335.38 L355.6 334.78 L356.96 334.19 L358.33 333.58 L359.69 332.97 L361.06 332.36 L362.43 331.74 L363.79 331.12 L365.16 330.5 L366.52 329.87 L367.89 329.23 L369.26 328.59 L370.62 327.95 L371.99 327.3 L373.35 326.64 L374.72 325.98 L376.09 325.32 L377.45 324.65 L378.82 323.98 L380.18 323.3 L381.55 322.62 L382.92 321.93 L384.28 321.23 L385.65 320.54 L387.01 319.83 L388.38 319.12 L389.75 318.41 L391.11 317.69 L392.48 316.97 L393.84 316.24 L395.21 315.51 L396.58 314.77 L397.94 314.02 L399.31 313.27 L400.67 312.52 L402.04 311.75 L403.41 310.99 L404.77 310.22 L406.14 309.44 L407.5 308.66 L408.87 307.87 L410.24 307.07 L411.6 306.27 L412.97 305.47 L414.33 304.66 L415.7 303.84 L417.07 303.02 L418.43 302.19 L419.8 301.36 L421.16 300.52 L422.53 299.67 L423.9 298.82 L425.26 297.96 L426.63 297.1 L427.99 296.23 L429.36 295.35 L430.73 294.47 L432.09 293.58 L433.46 292.69 L434.82 291.78 L436.19 290.88 L437.56 289.96 L438.92 289.04 L440.29 288.12 L441.65 287.19 L443.02 286.25 L444.39 285.3 L445.75 284.35 L447.12 283.39 L448.48 282.43 L449.85 281.45 L451.22 280.48 L452.58 279.49 L453.95 278.5 L455.31 277.5 L456.68 276.5 L458.05 275.48 L459.41 274.46 L460.78 273.44 L462.14 272.4 L463.51 271.36 L464.88 270.32 L466.24 269.26 L467.61 268.2 L468.97 267.13 L470.34 266.06 L471.71 264.98 L473.07 263.88 L474.44 262.79 L475.8 261.68 L477.17 260.57 L478.54 259.45 L479.9 258.32 L481.27 257.19 L482.63 256.05 L484 254.9 L485.37 253.74 L486.73 252.57 L488.1 251.4 L489.46 250.22 L490.83 249.03 L492.2 247.84 L493.56 246.63 L494.93 245.42 L496.29 244.2 L497.66 242.97 L499.03 241.74 L500.39 240.49 L501.76 239.24 L503.12 237.98 L504.49 236.71 L505.86 235.43 L507.22 234.15 L508.59 232.85 L509.95 231.55 L511.32 230.24 L512.69 228.92 L514.05 227.6 L515.42 226.26 L516.78 224.91 L518.15 223.56 L519.52 222.2 L520.88 220.83 L522.25 219.45 L523.61 218.06 L524.98 216.66 L526.35 215.26 L527.71 213.84 L529.08 212.42 L530.44 210.99 L531.81 209.55 L533.18 208.09 L534.54 206.63 L535.91 205.17 L537.27 203.69 L538.64 202.2 L540.01 200.7 L541.37 199.19 L542.74 197.68 L544.1 196.15 L545.47 194.62 L546.84 193.07 L548.2 191.52 L549.57 189.96 L550.93 188.38 L552.3 186.8 L553.67 185.21 L555.03 183.6 L556.4 181.99 L557.76 180.37 L559.13 178.73 L560.5 177.09 L561.86 175.44 L563.23 173.77 L564.59 172.1 L565.96 170.42 L567.33 168.72 L568.69 167.02 L570.06 165.31 L571.42 163.58 L572.79 161.85 L574.16 160.1 L575.52 158.34 L576.89 156.58 L578.25 154.8 L579.62 153.01 L580.99 151.21 L582.35 149.4 L583.72 147.58 L585.08 145.75 L586.45 143.91 L587.82 142.05 L589.18 140.19 L590.55 138.31 L591.91 136.43 L593.28 134.53 L594.65 132.62 L596.01 130.7 L597.38 128.77 L598.74 126.83 L600.11 124.87 L601.48 122.91 L602.84 120.93 L604.21 118.94 L605.57 116.94 L606.94 114.93 L608.31 112.9 L609.67 110.86 L611.04 108.82 L612.4 106.76 L613.77 104.69 L615.14 102.6 L616.5 100.51 L617.87 98.4 L619.23 96.28 L620.6 94.15 L621.97 92 L623.33 89.85 L624.7 87.68 L624.7 87.68" stroke="#ff0000" stroke-width="2.05" stroke-dasharray="2 3.8"/>
<path d="M308.92 348.5L317.52 357.1M308.92 357.1L317.52 348.5M308.92 370.8L317.52 379.4M308.92 379.4L317.52 370.8M308.92 394.59L317.52 403.19M308.92 403.19L317.52 394.59M308.92 453.82L317.52 462.42M308.92 462.42L317.52 453.82M343.12 335.26L351.72 343.86M343.12 343.86L351.72 335.26M343.12 359.81L351.72 368.41M343.12 368.41L351.72 359.81M343.12 386.3L351.72 394.9M343.12 394.9L351.72 386.3M343.12 449.73L351.72 458.33M343.12 458.33L351.72 449.73M377.32 319.21L385.92 327.81M377.32 327.81L385.92 319.21M377.32 346.13L385.92 354.73M377.32 354.73L385.92 346.13M377.32 375.53L385.92 384.13M377.32 384.13L385.92 375.53M377.32 443.7L385.92 452.3M377.32 452.3L385.92 443.7M411.52 300.48L420.12 309.08M411.52 309.08L420.12 300.48M411.52 330.09L420.12 338.69M411.52 338.69L420.12 330.09M411.52 362.5L420.12 371.1M411.52 371.1L420.12 362.5M411.52 434.65L420.12 443.25M411.52 443.25L420.12 434.65M445.73 277.65L454.33 286.25M445.73 286.25L454.33 277.65M445.73 309.84L454.33 318.44M445.73 318.44L454.33 309.84M445.73 345.7L454.33 354.3M445.73 354.3L454.33 345.7M445.73 422.92L454.33 431.52M445.73 431.52L454.33 422.92M479.93 251.37L488.53 259.97M479.93 259.97L488.53 251.37M479.93 285.61L488.53 294.21M479.93 294.21L488.53 285.61M479.93 324.6L488.53 333.2M479.93 333.2L488.53 324.6M479.93 406.87L488.53 415.47M479.93 415.47L488.53 406.87M514.13 220.25L522.73 228.85M514.13 228.85L522.73 220.25M514.13 256.75L522.73 265.35M514.13 265.35L522.73 256.75M514.13 298.64L522.73 307.24M514.13 307.24L522.73 298.64M514.13 385.55L522.73 394.15M514.13 394.15L522.73 385.55M548.34 183.53L556.94 192.13M548.34 192.13L556.94 183.53M548.34 221.54L556.94 230.14M548.34 230.14L556.94 221.54M548.34 266.45L556.94 275.05M548.34 275.05L556.94 266.45M548.34 357.77L556.94 366.37M548.34 366.37L556.94 357.77M582.54 140.02L591.14 148.62M582.54 148.62L591.14 140.02M582.54 180.19L591.14 188.79M582.54 188.79L591.14 180.19M582.54 227.57L591.14 236.17M582.54 236.17L591.14 227.57M582.54 322.55L591.14 331.15M582.54 331.15L591.14 322.55M616.74 90.38L625.34 98.98M616.74 98.98L625.34 90.38M616.74 130.87L625.34 139.47M616.74 139.47L625.34 130.87M616.74 179.97L625.34 188.57M616.74 188.57L625.34 179.97M616.74 278.51L625.34 287.11M616.74 287.11L625.34 278.51M650.95 122.36L659.55 130.96M650.95 130.96L659.55 122.36M650.95 223.59L659.55 232.19M650.95 232.19L659.55 223.59" stroke="#000" stroke-width="1.3"/>
</g>
<path d="M210.2 149.84L244.7 149.84" stroke="#000" stroke-width="1.4" fill="none"/>
<path d="M210.2 176.87L244.7 176.87" stroke="#000" stroke-width="1.4" fill="none" stroke-dasharray="8.3 4.15 2.08 4.15"/>
<path d="M210.2 203.89L244.7 203.89" stroke="#000" stroke-width="1.4" fill="none" stroke-dasharray="8.3 8.3"/>
<path d="M210.2 230.71L244.7 230.71" stroke="#000" stroke-width="1.4" fill="none" stroke-dasharray="2 3.8"/>
<path d="M264.86 144.3L259.47 151.3M259.47 144.3L264.86 144.3M259.47 151.3L264.86 151.3M268.29 145.3L277.11 145.3M268.29 148.3L277.11 148.3M283.48 140.8L282.01 141.3L281.03 142.8L280.54 145.3L280.54 146.8L281.03 149.3L282.01 150.8L283.48 151.3L284.46 151.3L285.93 150.8L286.91 149.3L287.4 146.8L287.4 145.3L286.91 142.8L285.93 141.3L284.46 140.8L283.48 140.8" fill="none" stroke="#000" stroke-width="1.5" stroke-linejoin="round" />
<path d="M264.86 171.2L259.47 178.2M259.47 171.2L264.86 171.2M259.47 178.2L264.86 178.2M268.29 172.2L277.11 172.2M268.29 175.2L277.11 175.2M281.52 167.7L286.91 167.7L283.97 171.7L285.44 171.7L286.42 172.2L286.91 172.7L287.4 174.2L287.4 175.2L286.91 176.7L285.93 177.7L284.46 178.2L282.99 178.2L281.52 177.7L281.03 177.2L280.54 176.2" fill="none" stroke="#000" stroke-width="1.5" stroke-linejoin="round" />
<path d="M264.86 198.1L259.47 205.1M259.47 198.1L264.86 198.1M259.47 205.1L264.86 205.1M268.29 199.1L277.11 199.1M268.29 202.1L277.11 202.1M286.91 196.1L286.42 195.1L284.95 194.6L283.97 194.6L282.5 195.1L281.52 196.6L281.03 199.1L281.03 201.6L281.52 203.6L282.5 204.6L283.97 205.1L284.46 205.1L285.93 204.6L286.91 203.6L287.4 202.1L287.4 201.6L286.91 200.1L285.93 199.1L284.46 198.6L283.97 198.6L282.5 199.1L281.52 200.1L281.03 201.6" fill="none" stroke="#000" stroke-width="1.5" stroke-linejoin="round" />
<path d="M264.86 225L259.47 232M259.47 225L264.86 225M259.47 232L264.86 232M268.29 226L277.11 226M268.29 229L277.11 229M282.01 223.5L282.99 223L284.46 221.5L284.46 232M293.28 221.5L291.81 222L290.83 223.5L290.34 226L290.34 227.5L290.83 230L291.81 231.5L293.28 232L294.26 232L295.73 231.5L296.71 230L297.2 227.5L297.2 226L296.71 223.5L295.73 222L294.26 221.5L293.28 221.5" fill="none" stroke="#000" stroke-width="1.5" stroke-linejoin="round" />
<path d="M518.1 419.46L552.8 419.46" stroke="#00ff50" stroke-width="1.4" fill="none"/>
<path d="M518.1 446.38L552.8 446.38" stroke="#0000ff" stroke-width="1.4" fill="none"/>
<path d="M518.1 473.31L552.8 473.31" stroke="#ff0000" stroke-width="1.4" fill="none"/>
<path d="M531.1 495.93L539.7 504.53M531.1 504.53L539.7 495.93" stroke="#000" stroke-width="1.3" fill="none"/>
<path d="M573.38 414.97L572.4 414L571.44 413.51L569.98 413.51L569.01 414L568.04 414.97L567.56 416.42L567.56 417.39L568.04 418.85L569.01 419.81L569.98 420.3L571.44 420.3L572.4 419.81L573.38 418.85M578.71 413.51L577.74 414L576.77 414.97L576.29 416.42L576.29 417.39L576.77 418.85L577.74 419.81L578.71 420.3L580.17 420.3L581.13 419.81L582.11 418.85L582.59 417.39L582.59 416.42L582.11 414.97L581.13 414L580.17 413.51L578.71 413.51M585.99 413.51L585.99 420.3M585.99 415.45L587.44 414L588.41 413.51L589.87 413.51L590.84 414L591.32 415.45L591.32 420.3M600.05 414.97L599.57 414L598.11 413.51L596.66 413.51L595.2 414L594.72 414.97L595.2 415.94L596.17 416.42L598.6 416.91L599.57 417.39L600.05 418.36L600.05 418.85L599.57 419.81L598.11 420.3L596.66 420.3L595.2 419.81L594.72 418.85M603.93 410.12L603.93 418.36L604.42 419.81L605.39 420.3L606.36 420.3M602.48 413.51L605.87 413.51M614.6 413.51L614.6 420.3M614.6 414.97L613.63 414L612.66 413.51L611.21 413.51L610.24 414L609.27 414.97L608.78 416.42L608.78 417.39L609.27 418.85L610.24 419.81L611.21 420.3L612.66 420.3L613.63 419.81L614.6 418.85M618.48 413.51L618.48 420.3M618.48 415.45L619.94 414L620.91 413.51L622.36 413.51L623.33 414L623.82 415.45L623.82 420.3M628.18 410.12L628.18 418.36L628.67 419.81L629.64 420.3L630.61 420.3M626.73 413.51L630.12 413.51" fill="none" stroke="#000" stroke-width="1.45" stroke-linejoin="round" />
<path d="M572.89 441.87L572.4 440.89L570.95 440.41L569.5 440.41L568.04 440.89L567.56 441.87L568.04 442.83L569.01 443.32L571.44 443.81L572.4 444.29L572.89 445.26L572.89 445.75L572.4 446.71L570.95 447.2L569.5 447.2L568.04 446.71L567.56 445.75M581.62 440.41L581.62 450.59M581.62 441.87L580.65 440.89L579.68 440.41L578.23 440.41L577.25 440.89L576.29 441.87L575.8 443.32L575.8 444.29L576.29 445.75L577.25 446.71L578.23 447.2L579.68 447.2L580.65 446.71L581.62 445.75M585.5 440.41L585.5 445.26L585.99 446.71L586.96 447.2L588.41 447.2L589.38 446.71L590.84 445.26M590.84 440.41L590.84 447.2M600.05 440.41L600.05 447.2M600.05 441.87L599.08 440.89L598.11 440.41L596.66 440.41L595.69 440.89L594.72 441.87L594.23 443.32L594.23 444.29L594.72 445.75L595.69 446.71L596.66 447.2L598.11 447.2L599.08 446.71L600.05 445.75M603.93 440.41L603.93 447.2M603.93 443.32L604.42 441.87L605.39 440.89L606.36 440.41L607.81 440.41M609.75 443.32L615.57 443.32L615.57 442.35L615.09 441.38L614.6 440.89L613.63 440.41L612.18 440.41L611.21 440.89L610.24 441.87L609.75 443.32L609.75 444.29L610.24 445.75L611.21 446.71L612.18 447.2L613.63 447.2L614.6 446.71L615.57 445.75M618.97 442.83L627.7 442.83M631.58 440.41L631.58 447.2M631.58 443.32L632.06 441.87L633.03 440.89L634 440.41L635.46 440.41M639.82 440.41L638.85 440.89L637.88 441.87L637.4 443.32L637.4 444.29L637.88 445.75L638.85 446.71L639.82 447.2L641.28 447.2L642.25 446.71L643.22 445.75L643.7 444.29L643.7 443.32L643.22 441.87L642.25 440.89L641.28 440.41L639.82 440.41M649.04 440.41L648.07 440.89L647.1 441.87L646.61 443.32L646.61 444.29L647.1 445.75L648.07 446.71L649.04 447.2L650.49 447.2L651.46 446.71L652.43 445.75L652.92 444.29L652.92 443.32L652.43 441.87L651.46 440.89L650.49 440.41L649.04 440.41M656.8 437.01L656.8 445.26L657.28 446.71L658.25 447.2L659.22 447.2M655.34 440.41L658.74 440.41" fill="none" stroke="#000" stroke-width="1.45" stroke-linejoin="round" />
<path d="M567.56 470.22L573.38 470.22L573.38 469.25L572.89 468.28L572.4 467.8L571.44 467.31L569.98 467.31L569.01 467.8L568.04 468.77L567.56 470.22L567.56 471.19L568.04 472.65L569.01 473.62L569.98 474.1L571.44 474.1L572.4 473.62L573.38 472.65M576.77 463.92L576.77 474.1M580.65 463.92L580.65 474.1M584.05 463.92L584.53 464.4L585.01 463.92L584.53 463.43L584.05 463.92M584.53 467.31L584.53 474.1M588.41 467.31L588.41 477.5M588.41 468.77L589.38 467.8L590.35 467.31L591.81 467.31L592.77 467.8L593.75 468.77L594.23 470.22L594.23 471.19L593.75 472.65L592.77 473.62L591.81 474.1L590.35 474.1L589.38 473.62L588.41 472.65M602.48 468.77L601.99 467.8L600.54 467.31L599.08 467.31L597.63 467.8L597.14 468.77L597.63 469.74L598.6 470.22L601.02 470.71L601.99 471.19L602.48 472.16L602.48 472.65L601.99 473.62L600.54 474.1L599.08 474.1L597.63 473.62L597.14 472.65M607.81 467.31L606.84 467.8L605.87 468.77L605.39 470.22L605.39 471.19L605.87 472.65L606.84 473.62L607.81 474.1L609.27 474.1L610.24 473.62L611.21 472.65L611.69 471.19L611.69 470.22L611.21 468.77L610.24 467.8L609.27 467.31L607.81 467.31M614.6 463.92L615.09 464.4L615.57 463.92L615.09 463.43L614.6 463.92M615.09 467.31L615.09 474.1M624.3 463.92L624.3 474.1M624.3 468.77L623.33 467.8L622.36 467.31L620.91 467.31L619.94 467.8L618.97 468.77L618.48 470.22L618.48 471.19L618.97 472.65L619.94 473.62L620.91 474.1L622.36 474.1L623.33 473.62L624.3 472.65M633.52 467.31L633.52 474.1M633.52 468.77L632.55 467.8L631.58 467.31L630.12 467.31L629.15 467.8L628.18 468.77L627.7 470.22L627.7 471.19L628.18 472.65L629.15 473.62L630.12 474.1L631.58 474.1L632.55 473.62L633.52 472.65M637.4 463.92L637.4 474.1" fill="none" stroke="#000" stroke-width="1.45" stroke-linejoin="round" />
<path d="M568.04 490.81L568.04 501M568.04 490.81L574.83 501M574.83 490.81L574.83 501M578.71 496.63L587.44 496.63M591.32 490.81L591.32 501M591.32 495.67L592.29 494.69L593.26 494.21L594.72 494.21L595.68 494.69L596.65 495.67L597.14 497.12L597.14 498.09L596.65 499.55L595.68 500.51L594.72 501L593.26 501L592.29 500.51L591.32 499.55M602.48 494.21L601.5 494.69L600.54 495.67L600.05 497.12L600.05 498.09L600.54 499.55L601.5 500.51L602.48 501L603.93 501L604.9 500.51L605.87 499.55L606.36 498.09L606.36 497.12L605.87 495.67L604.9 494.69L603.93 494.21L602.48 494.21M615.09 490.81L615.09 501M615.09 495.67L614.12 494.69L613.15 494.21L611.69 494.21L610.72 494.69L609.75 495.67L609.27 497.12L609.27 498.09L609.75 499.55L610.72 500.51L611.69 501L613.15 501L614.12 500.51L615.09 499.55M618 494.21L620.91 501M623.82 494.21L620.91 501L619.94 502.94L618.97 503.91L618 504.39L617.51 504.39" fill="none" stroke="#000" stroke-width="1.45" stroke-linejoin="round" />
<path d="M140.89 541.39L139.07 542L138.47 543.21L138.47 544.42L139.07 545.63L140.28 546.24L142.7 546.84L144.52 547.45L145.73 548.65L146.33 549.87L146.33 551.68L145.73 552.89L145.12 553.5L143.31 554.1L140.89 554.1L139.07 553.5L138.47 552.89L137.86 551.68L137.86 549.87L138.47 548.65L139.68 547.45L141.49 546.84L143.91 546.24L145.12 545.63L145.73 544.42L145.73 543.21L145.12 542L143.31 541.39L140.89 541.39" fill="none" stroke="#000" stroke-width="1.5" stroke-linejoin="round" />
<path d="M270.44 543.82L271.65 543.21L273.47 541.39L273.47 554.1M284.36 541.39L282.54 542L281.33 543.82L280.73 546.84L280.73 548.65L281.33 551.68L282.54 553.5L284.36 554.1L285.57 554.1L287.38 553.5L288.59 551.68L289.2 548.65L289.2 546.84L288.59 543.82L287.38 542L285.57 541.39L284.36 541.39" fill="none" stroke="#000" stroke-width="1.5" stroke-linejoin="round" />
<path d="M407.25 543.82L408.46 543.21L410.28 541.39L410.28 554.1M418.14 544.42L418.14 543.82L418.75 542.61L419.35 542L420.56 541.39L422.98 541.39L424.19 542L424.8 542.61L425.4 543.82L425.4 545.02L424.8 546.24L423.59 548.05L417.54 554.1L426.01 554.1" fill="none" stroke="#000" stroke-width="1.5" stroke-linejoin="round" />
<path d="M544.07 543.82L545.28 543.21L547.09 541.39L547.09 554.1M560.4 541.39L554.35 549.87L563.43 549.87M560.4 541.39L560.4 554.1" fill="none" stroke="#000" stroke-width="1.5" stroke-linejoin="round" />
<path d="M680.88 543.82L682.09 543.21L683.9 541.39L683.9 554.1M699.03 543.21L698.43 542L696.61 541.39L695.4 541.39L693.59 542L692.38 543.82L691.77 546.84L691.77 549.87L692.38 552.28L693.59 553.5L695.4 554.1L696 554.1L697.82 553.5L699.03 552.28L699.63 550.47L699.63 549.87L699.03 548.05L697.82 546.84L696 546.24L695.4 546.24L693.59 546.84L692.38 548.05L691.77 549.87" fill="none" stroke="#000" stroke-width="1.5" stroke-linejoin="round" />
<path d="M110.69 521.65L121.58 521.65M127.63 516.82L128.84 516.21L130.66 514.39L130.66 527.1" fill="none" stroke="#000" stroke-width="1.5" stroke-linejoin="round" />
<path d="M129.44 414.01L127.63 414.61L126.42 416.43L125.81 419.45L125.81 421.27L126.42 424.29L127.63 426.11L129.44 426.71L130.66 426.71L132.47 426.11L133.68 424.29L134.28 421.27L134.28 419.45L133.68 416.43L132.47 414.61L130.66 414.01L129.44 414.01" fill="none" stroke="#000" stroke-width="1.5" stroke-linejoin="round" />
<path d="M127.63 308.74L128.84 308.13L130.66 306.32L130.66 319.02" fill="none" stroke="#000" stroke-width="1.5" stroke-linejoin="round" />
<path d="M126.42 201.66L126.42 201.05L127.03 199.84L127.63 199.24L128.84 198.63L131.26 198.63L132.47 199.24L133.07 199.84L133.68 201.05L133.68 202.26L133.07 203.47L131.87 205.29L125.81 211.34L134.28 211.34" fill="none" stroke="#000" stroke-width="1.5" stroke-linejoin="round" />
<path d="M127.03 96.34L133.68 96.34L130.05 101.19L131.87 101.19L133.07 101.79L133.68 102.39L134.28 104.21L134.28 105.42L133.68 107.23L132.47 108.44L130.66 109.05L128.84 109.05L127.03 108.44L126.42 107.84L125.81 106.63" fill="none" stroke="#000" stroke-width="1.5" stroke-linejoin="round" />
<path d="M368.96 564.29L368.96 577M376.16 568.53L374.96 569.13L373.76 570.35L373.16 572.16L373.16 573.37L373.76 575.18L374.96 576.39L376.16 577L377.96 577L379.16 576.39L380.36 575.18L380.96 573.37L380.96 572.16L380.36 570.35L379.16 569.13L377.96 568.53L376.16 568.53M391.76 568.53L391.76 578.21L391.16 580.02L390.56 580.63L389.36 581.24L387.56 581.24L386.36 580.63M391.76 570.35L390.56 569.13L389.36 568.53L387.56 568.53L386.36 569.13L385.16 570.35L384.56 572.16L384.56 573.37L385.16 575.18L386.36 576.39L387.56 577L389.36 577L390.56 576.39L391.76 575.18" fill="none" stroke="#000" stroke-width="1.5" stroke-linejoin="round" />
<path d="M404.85 564.29L404.85 577M404.85 564.29L409.65 577M414.45 564.29L409.65 577M414.45 564.29L414.45 577" fill="none" stroke="#000" stroke-width="1.5" stroke-linejoin="round" />
<path d="M428.75 561.88L428.75 581.24M429.35 561.88L429.35 581.24M428.75 561.88L432.95 561.88M428.75 581.24L432.95 581.24" fill="none" stroke="#000" stroke-width="1.5" stroke-linejoin="round" />
<path d="M436.25 564.29L436.25 577M436.25 564.29L441.05 577M445.85 564.29L441.05 577M445.85 564.29L445.85 577" fill="none" stroke="#000" stroke-width="1.5" stroke-linejoin="round" />
<path d="M461.05 561.88L461.05 581.24M461.65 561.88L461.65 581.24M457.45 561.88L461.65 561.88M457.45 581.24L461.65 581.24" fill="none" stroke="#000" stroke-width="1.5" stroke-linejoin="round" />
<circle cx="452.75" cy="576.7" r="3.0" fill="none" stroke="#000" stroke-width="1.4"/><circle cx="452.75" cy="576.7" r="1.0" fill="#000"/>
<g transform="translate(93.1 363.0) rotate(-90)">
<path d="M2.4 -12.71L2.4 0M9.6 -8.47L8.4 -7.87L7.2 -6.65L6.6 -4.84L6.6 -3.63L7.2 -1.81L8.4 -0.6L9.6 0L11.4 0L12.6 -0.6L13.8 -1.81L14.4 -3.63L14.4 -4.84L13.8 -6.65L12.6 -7.87L11.4 -8.47L9.6 -8.47M25.2 -8.47L25.2 1.21L24.6 3.02L24 3.63L22.8 4.23L21 4.23L19.8 3.63M25.2 -6.65L24 -7.87L22.8 -8.47L21 -8.47L19.8 -7.87L18.6 -6.65L18 -4.84L18 -3.63L18.6 -1.81L19.8 -0.6L21 0L22.8 0L24 -0.6L25.2 -1.81M39.6 -12.71L39.6 0M39.6 -6.65L40.8 -7.87L42 -8.47L43.8 -8.47L45 -7.87L46.2 -6.65L46.8 -4.84L46.8 -3.63L46.2 -1.81L45 -0.6L43.8 0L42 0L40.8 -0.6L39.6 -1.81" fill="none" stroke="#000" stroke-width="1.5" stroke-linejoin="round" />
<path d="M49.66 -13.11L49.66 -13.38L49.92 -13.91L50.18 -14.17L50.71 -14.44L51.77 -14.44L52.3 -14.17L52.56 -13.91L52.82 -13.38L52.82 -12.84L52.56 -12.31L52.03 -11.51L49.39 -8.85L53.09 -8.85" fill="none" stroke="#000" stroke-width="1.3" stroke-linejoin="round" />
<path d="M60.48 -15.12L59.28 -13.91L58.08 -12.1L56.88 -9.68L56.28 -6.65L56.28 -4.23L56.88 -1.21L58.08 1.21L59.28 3.02L60.48 4.23M64.68 -12.71L64.68 0M64.68 -12.71L69.48 0M74.28 -12.71L69.48 0M74.28 -12.71L74.28 0M80.28 -0.6L79.68 0L79.08 -0.6L79.68 -1.21L80.28 -0.6L80.28 0.6L79.68 1.81L79.08 2.42M91.08 -8.47L84.48 0M84.48 -8.47L91.08 -8.47M84.48 0L91.08 0M94.68 -15.12L95.88 -13.91L97.08 -12.1L98.28 -9.68L98.88 -6.65L98.88 -4.23L98.28 -1.21L97.08 1.21L95.88 3.02L94.68 4.23" fill="none" stroke="#000" stroke-width="1.5" stroke-linejoin="round" />
</g>
<path d="M324 72.67L324 86.95M333.45 72.67L333.45 86.95M324 79.47L333.45 79.47M346.28 77.43L346.28 86.95M346.28 79.47L344.93 78.11L343.58 77.43L341.55 77.43L340.2 78.11L338.85 79.47L338.18 81.51L338.18 82.87L338.85 84.91L340.2 86.27L341.55 86.95L343.58 86.95L344.93 86.27L346.28 84.91M351.68 72.67L351.68 86.95M359.77 77.43L358.43 78.11L357.07 79.47L356.4 81.51L356.4 82.87L357.07 84.91L358.43 86.27L359.77 86.95L361.8 86.95L363.15 86.27L364.5 84.91L365.18 82.87L365.18 81.51L364.5 79.47L363.15 78.11L361.8 77.43L359.77 77.43" fill="none" stroke="#000" stroke-width="1.65" stroke-linejoin="round" />
<path d="M379.9 72.67L379.9 86.95M379.9 72.67L386.06 72.67L388.12 73.35L388.8 74.03L389.49 75.39L389.49 76.75L388.8 78.11L388.12 78.79L386.06 79.47M379.9 79.47L386.06 79.47L388.12 80.15L388.8 80.83L389.49 82.19L389.49 84.23L388.8 85.59L388.12 86.27L386.06 86.95L379.9 86.95M393.6 72.67L394.28 73.35L394.97 72.67L394.28 71.99L393.6 72.67M394.28 77.43L394.28 86.95M407.3 77.43L407.3 86.95M407.3 79.47L405.93 78.11L404.56 77.43L402.5 77.43L401.13 78.11L399.76 79.47L399.08 81.51L399.08 82.87L399.76 84.91L401.13 86.27L402.5 86.95L404.56 86.95L405.93 86.27L407.3 84.91M419.63 79.47L418.94 78.11L416.89 77.43L414.83 77.43L412.78 78.11L412.09 79.47L412.78 80.83L414.15 81.51L417.57 82.19L418.94 82.87L419.63 84.23L419.63 84.91L418.94 86.27L416.89 86.95L414.83 86.95L412.78 86.27L412.09 84.91" fill="none" stroke="#000" stroke-width="1.65" stroke-linejoin="round" />
<path d="M439.3 69.95L437.93 71.31L436.56 73.35L435.19 76.07L434.5 79.47L434.5 82.19L435.19 85.59L436.56 88.31L437.93 90.35L439.3 91.71M450.94 77.43L443.4 86.95M443.4 77.43L450.94 77.43M443.4 86.95L450.94 86.95" fill="none" stroke="#000" stroke-width="1.65" stroke-linejoin="round" />
<path d="M455.32 85.62L454.74 85.89L454.15 86.43L453.86 87.24L453.86 87.78L454.15 88.59L454.74 89.13L455.32 89.4L456.2 89.4L456.79 89.13L457.38 88.59L457.67 87.78L457.67 87.24L457.38 86.43L456.79 85.89L456.2 85.62L455.32 85.62M459.72 83.73L459.72 89.4M459.72 86.43L460.31 85.89L460.89 85.62L461.77 85.62L462.36 85.89L462.94 86.43L463.24 87.24L463.24 87.78L462.94 88.59L462.36 89.13L461.77 89.4L460.89 89.4L460.31 89.13L459.72 88.59M468.22 86.43L467.92 85.89L467.05 85.62L466.17 85.62L465.29 85.89L464.99 86.43L465.29 86.97L465.87 87.24L467.34 87.51L467.92 87.78L468.22 88.32L468.22 88.59L467.92 89.13L467.05 89.4L466.17 89.4L465.29 89.13L464.99 88.59" fill="none" stroke="#000" stroke-width="1.5" stroke-linejoin="round" />
<path d="M471 78.79L483.33 78.79M471 82.87L483.33 82.87M492.24 72.67L490.18 73.35L488.81 75.39L488.12 78.79L488.12 80.83L488.81 84.23L490.18 86.27L492.24 86.95L493.61 86.95L495.66 86.27L497.03 84.23L497.71 80.83L497.71 78.79L497.03 75.39L495.66 73.35L493.61 72.67L492.24 72.67M501.82 69.95L503.19 71.31L504.56 73.35L505.94 76.07L506.62 79.47L506.62 82.19L505.94 85.59L504.56 88.31L503.19 90.35L501.82 91.71" fill="none" stroke="#000" stroke-width="1.65" stroke-linejoin="round" />
</svg>
</body></html>
